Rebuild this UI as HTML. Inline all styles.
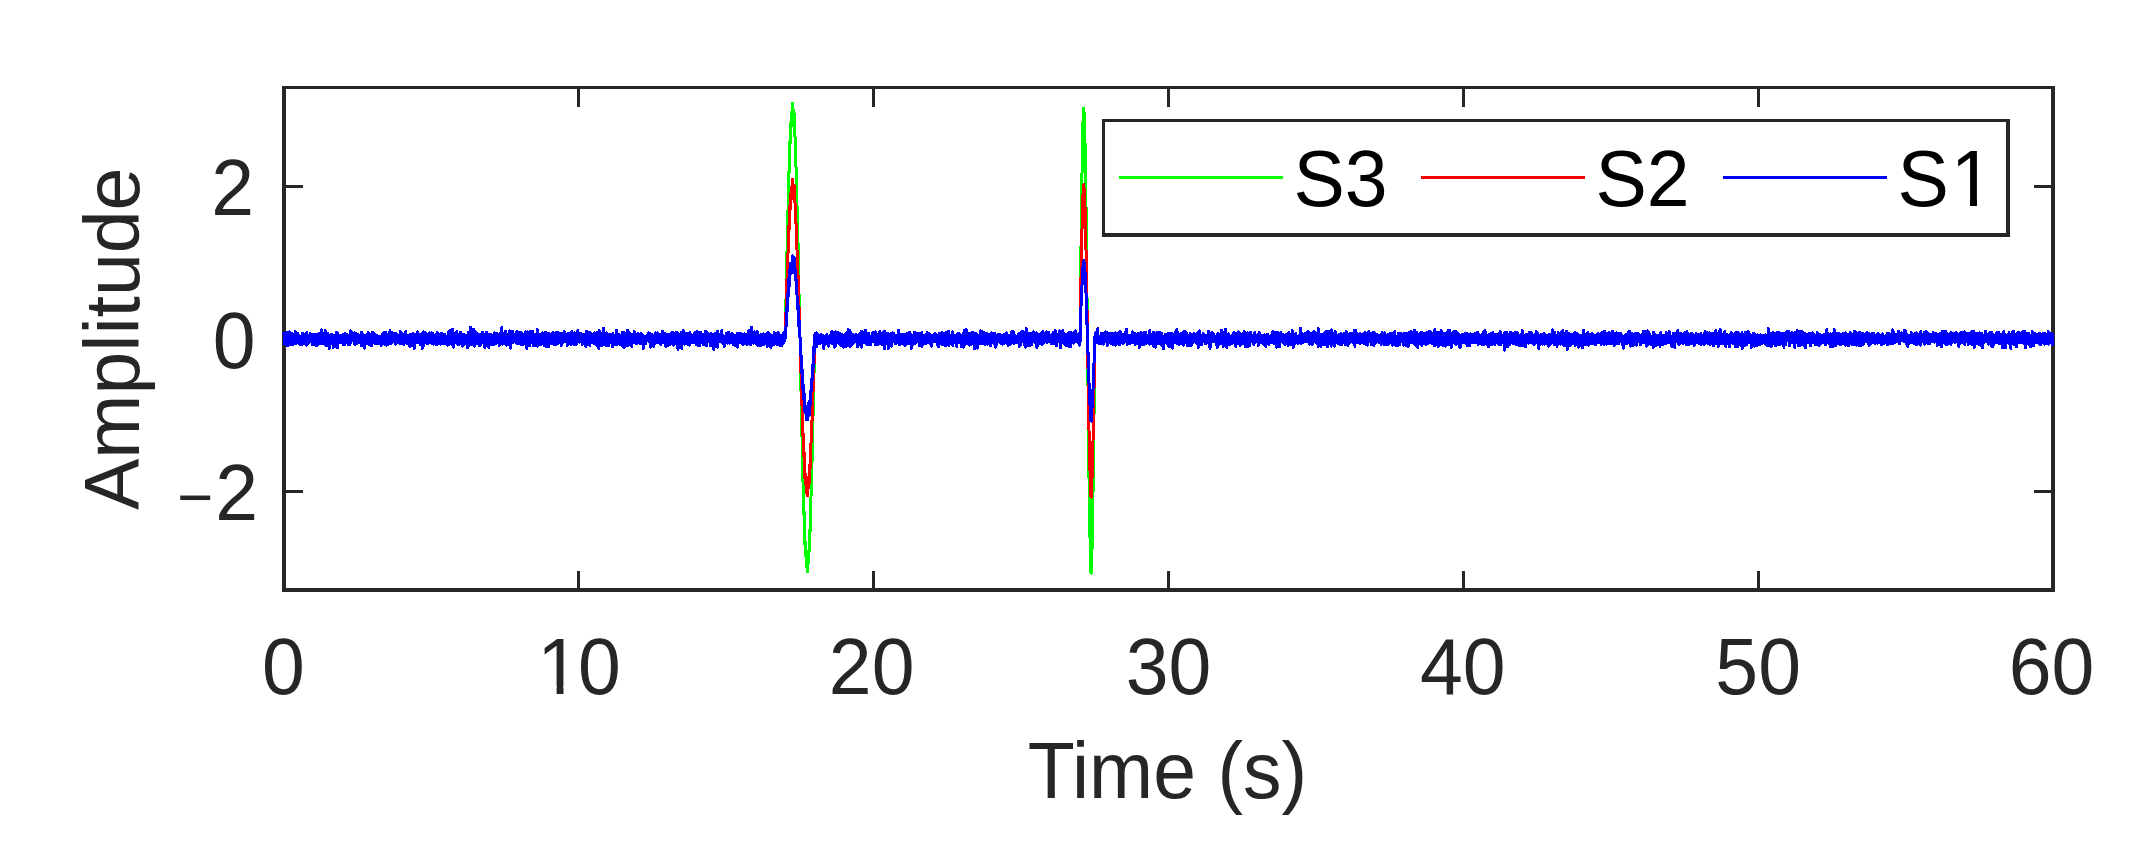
<!DOCTYPE html>
<html lang="en"><head><meta charset="utf-8"><title>Amplitude vs Time</title>
<style>
html,body{margin:0;padding:0;background:#fff;}
body{width:2130px;height:843px;overflow:hidden;}
svg{display:block;font-family:"Liberation Sans",sans-serif;}
</style></head><body>
<svg width="2130" height="843" viewBox="0 0 2130 843">
<rect x="0" y="0" width="2130" height="843" fill="#fff"/>
<g fill="#262626" shape-rendering="crispEdges">
<rect x="282" y="86" width="1773" height="3"/>
<rect x="282" y="588" width="1773" height="4"/>
<rect x="282" y="86" width="4" height="506"/>
<rect x="2051" y="86" width="4" height="506"/>
<rect x="577" y="571" width="3" height="18"/>
<rect x="577" y="88" width="3" height="19"/>
<rect x="872" y="571" width="3" height="18"/>
<rect x="872" y="88" width="3" height="19"/>
<rect x="1167" y="571" width="3" height="18"/>
<rect x="1167" y="88" width="3" height="19"/>
<rect x="1462" y="571" width="3" height="18"/>
<rect x="1462" y="88" width="3" height="19"/>
<rect x="1757" y="571" width="3" height="18"/>
<rect x="1757" y="88" width="3" height="19"/>
<rect x="285" y="185" width="18" height="3"/>
<rect x="2034" y="185" width="18" height="3"/>
<rect x="285" y="337" width="18" height="3"/>
<rect x="2034" y="337" width="18" height="3"/>
<rect x="285" y="490" width="18" height="3"/>
<rect x="2034" y="490" width="18" height="3"/>
</g>
<g fill="none" stroke-width="3" stroke-linejoin="round" stroke-linecap="square" shape-rendering="crispEdges">
<polyline stroke="#00ff00" points="782.3,340.1 782.5,336.8 782.6,343.3 783.0,338.8 783.1,344.0 783.9,332.4 784.0,341.1 784.3,334.5 784.9,341.2 785.0,339.9 785.1,335.9 785.2,337.7 785.9,306.6 786.0,299.5 787.0,250.8 787.1,250.6 787.9,211.7 788.0,211.0 788.9,171.8 789.0,173.9 789.1,169.4 789.2,171.9 789.9,141.1 790.1,144.0 790.8,123.1 791.0,124.7 791.1,122.8 791.8,112.0 791.9,113.9 792.1,114.0 792.5,103.5 792.6,116.3 792.9,111.1 793.0,111.8 793.4,110.2 793.8,125.9 793.9,123.1 794.1,112.9 794.8,134.5 794.9,131.0 795.0,136.5 795.9,166.3 796.1,167.7 796.9,201.3 797.0,205.1 798.0,241.3 798.1,251.1 798.9,285.5 799.0,296.8 799.1,293.9 800.0,337.6 800.1,341.4 800.9,382.7 801.0,390.5 802.0,437.0 802.1,435.7 802.9,469.0 803.0,482.3 804.0,514.5 804.1,511.0 804.9,544.6 805.0,541.8 805.1,541.1 806.0,556.5 806.1,566.4 806.2,555.4 806.9,562.9 807.0,564.8 807.5,571.8 808.0,561.2 808.1,563.6 808.4,551.3 808.9,559.8 809.0,551.0 809.5,551.3 810.0,528.8 810.1,531.8 810.9,502.1 811.0,497.1 812.0,461.5 812.1,460.6 812.9,422.3 813.0,416.5 814.0,369.0 814.1,373.2 814.7,335.2 814.9,343.0 815.1,340.6 815.4,333.1 815.9,342.6 816.0,340.6 816.1,334.3 816.2,332.9 816.6,346.5 816.9,335.9 817.1,334.7 817.2,342.9 817.5,334.5 817.6,340.4"/>
<polyline stroke="#00ff00" points="1077.1,337.2 1077.3,341.2 1077.8,334.2 1077.9,339.5 1078.0,342.8 1078.4,336.2 1079.0,340.1 1079.1,344.2 1079.2,345.1 1079.5,333.3 1079.9,337.2 1080.1,341.3 1081.0,247.1 1081.1,237.6 1081.9,176.9 1082.1,169.0 1083.0,121.9 1083.1,116.8 1083.7,108.4 1083.9,109.2 1084.1,114.2 1084.9,135.2 1085.0,140.8 1085.9,201.6 1086.1,211.7 1086.9,290.3 1087.0,295.6 1088.0,385.8 1088.1,404.4 1088.9,472.6 1089.0,477.9 1090.0,537.7 1090.1,539.6 1090.9,572.7 1091.0,564.1 1091.3,573.2 1092.0,550.0 1092.1,546.0 1092.9,500.5 1093.0,493.4 1094.0,415.6 1094.1,407.8 1094.9,336.7 1095.0,342.7 1095.9,332.5 1096.0,335.8 1096.1,339.5 1096.3,334.7 1096.4,341.3 1096.9,339.5 1097.0,333.7 1097.5,342.7 1097.7,340.6"/>
<polyline stroke="#ff0000" points="782.3,340.1 782.5,336.8 782.6,343.3 783.0,338.8 783.1,344.0 783.9,332.4 784.0,341.1 784.3,334.5 784.9,341.2 785.0,339.9 785.1,335.9 785.2,337.7 785.9,318.0 786.0,312.8 787.0,278.8 787.1,280.4 787.9,253.3 788.0,254.2 788.9,225.3 789.0,228.7 789.1,225.5 789.2,229.4 789.9,205.4 790.1,209.3 790.8,193.5 791.0,196.5 791.1,195.2 791.5,195.7 791.8,187.1 791.9,189.3 792.1,189.6 792.5,179.6 792.6,192.4 792.9,187.1 793.0,187.7 793.4,185.3 793.8,199.4 793.9,196.1 794.1,185.3 794.8,202.5 794.9,198.2 795.0,202.8 795.9,223.7 796.1,223.8 796.9,247.6 797.0,249.8 797.7,274.4 798.0,272.8 798.1,280.9 798.2,280.4 798.7,303.6 798.9,302.5 799.0,312.0 799.1,307.3 800.0,337.6 800.1,339.5 800.9,367.5 801.0,373.4 802.0,405.5 802.1,402.4 802.9,424.2 803.0,436.0 803.3,434.0 804.0,457.0 804.1,452.4 804.9,478.3 805.0,474.6 805.1,473.0 805.6,484.0 806.0,483.5 806.1,492.9 806.2,481.4 806.9,487.0 807.0,488.8 807.5,495.8 808.0,485.7 808.1,488.4 808.3,488.6 808.4,477.4 808.9,488.0 809.0,479.8 809.5,483.3 810.0,464.5 810.1,468.6 810.9,447.2 811.0,443.6 812.0,419.9 812.1,420.6 812.9,394.2 813.0,390.3 813.3,391.2 814.0,357.5 814.1,363.7 814.7,335.2 814.9,343.0 815.1,340.6 815.4,333.1 815.9,342.6 816.0,340.6 816.1,334.3 816.2,332.9 816.6,346.5 816.9,335.9 817.1,334.7 817.2,342.9 817.5,334.5 817.6,340.4"/>
<polyline stroke="#ff0000" points="1077.1,337.2 1077.3,341.2 1077.8,334.2 1077.9,339.5 1078.0,342.8 1078.4,336.2 1079.0,340.1 1079.1,344.2 1079.2,345.1 1079.5,333.3 1079.9,337.2 1080.1,341.3 1081.0,276.9 1081.1,270.9 1081.9,231.8 1082.1,226.5 1083.0,194.3 1083.1,190.3 1083.4,190.3 1083.7,184.5 1083.9,185.0 1084.1,189.6 1084.3,188.7 1084.9,202.3 1085.0,206.1 1085.9,246.3 1086.1,253.3 1086.9,307.4 1087.0,308.9 1088.0,368.7 1088.1,383.6 1088.9,427.8 1089.0,430.1 1090.0,470.5 1090.1,470.7 1090.9,496.9 1091.0,488.0 1091.3,497.2 1092.0,478.9 1092.1,476.3 1092.9,445.7 1093.0,441.3 1094.0,389.4 1094.1,385.2 1094.9,336.7 1095.0,342.7 1095.9,332.5 1096.0,335.8 1096.1,339.5 1096.3,334.7 1096.4,341.3 1096.9,339.5 1097.0,333.7 1097.5,342.7 1097.7,340.6"/>
<polyline stroke="#0000ff" points="284.0,333.5 284.8,344.2 284.9,335.6 285.1,336.9 285.8,343.3 285.9,337.0 286.0,338.4 286.2,343.5 286.7,332.4 286.9,343.3 287.1,340.0 287.2,345.9 287.7,335.4 287.9,337.1 288.0,345.2 288.5,333.2 289.0,337.0 289.1,341.1 289.3,344.4 289.5,331.7 289.9,332.8 290.0,338.0 290.6,343.2 291.0,335.0 291.1,339.9 291.2,344.7 291.4,333.4 291.9,342.0 292.0,339.7 292.1,342.4 292.7,334.1 293.0,337.7 293.1,336.5 293.3,344.3 293.6,336.0 293.9,339.4 294.0,340.6 294.4,334.0 295.0,339.0 295.1,340.9 295.3,331.7 295.8,341.4 295.9,337.6 296.0,337.5 296.1,343.3 296.7,333.4 297.0,339.6 297.1,337.8 297.2,335.5 297.4,342.6 297.9,340.8 298.0,333.3 298.3,341.4 299.0,337.6 299.1,335.7 299.9,344.5 300.0,338.5 300.3,344.8 300.6,337.2 301.0,342.6 301.1,340.4 301.7,338.7 301.8,344.3 301.9,339.4 302.0,336.6 302.3,333.4 302.4,343.6 303.0,337.5 303.1,332.9 303.2,343.4 303.9,341.3 304.0,341.3 304.8,335.7 305.0,342.9 305.1,336.7 305.6,334.9 305.8,344.5 305.9,343.0 306.1,336.5 306.9,345.2 307.0,332.3 307.1,344.7 307.7,335.6 307.9,342.9 308.1,339.9 308.4,336.2 308.8,342.3 308.9,339.7 309.0,336.9 309.5,340.6 309.9,338.2 310.1,333.3 310.4,342.0 310.9,338.9 311.0,336.5 311.2,340.4 311.7,335.1 312.0,339.8 312.1,340.4 312.4,344.7 312.5,334.8 312.9,342.4 313.0,334.7 313.4,343.1 314.0,338.6 314.1,335.7 314.7,334.9 314.9,344.3 315.0,337.6 315.1,334.2 315.4,340.4 316.0,334.4 316.1,337.2 316.4,335.8 316.8,345.9 316.9,335.9 317.0,340.6 317.1,345.4 317.5,336.4 318.0,342.9 318.1,336.0 318.6,341.7 318.9,333.0 319.0,338.7 319.1,333.5 319.6,343.7 320.0,339.2 320.1,339.0 320.2,334.4 320.4,343.4 320.9,337.8 321.0,341.4 321.3,329.8 322.0,341.6 322.1,342.4 322.4,343.9 322.6,335.1 322.9,339.6 323.0,338.0 323.6,337.5 323.7,343.2 324.0,339.2 324.1,333.2 324.3,343.2 324.9,336.3 325.0,333.6 325.3,330.5 326.0,345.9 326.1,338.5 326.3,341.2 326.6,335.6 326.9,340.8 327.0,341.2 327.5,345.7 328.0,333.2 328.1,338.8 328.3,343.3 328.5,335.1 328.9,338.9 329.1,339.7 329.3,348.4 329.8,337.5 330.0,338.3 330.1,336.3 330.5,343.8 330.9,333.9 331.1,335.4 331.8,343.8 331.9,334.6 332.0,340.9 332.1,336.6 332.5,334.7 332.7,343.5 332.9,336.1 333.1,339.9 333.3,337.2 333.4,347.4 333.9,341.0 334.0,342.2 334.2,343.3 334.8,335.9 334.9,339.1 335.1,337.1 335.3,341.3 335.4,337.0 335.9,340.1 336.0,336.3 336.1,331.9 337.0,347.5 337.1,340.6 337.8,332.8 337.9,347.6 338.0,339.7 338.5,343.0 338.8,335.4 339.0,338.4 339.1,341.4 339.4,337.0 339.9,342.4 340.0,336.2 340.1,335.1 340.3,342.4 341.0,335.6 341.1,340.1 341.2,340.8 341.9,336.4 342.0,335.6 342.3,343.2 343.0,334.0 343.1,344.6 343.9,334.7 344.0,338.2 344.5,344.5 344.6,333.8 345.0,342.8 345.1,342.1 345.3,342.8 345.4,333.5 345.9,334.2 346.0,334.6 346.9,342.7 347.0,338.2 347.1,342.4 347.2,334.5 347.9,335.8 348.0,343.3 348.2,344.6 348.9,336.3 349.0,341.5 349.1,338.5 349.5,336.8 349.7,344.8 349.9,337.8 350.0,335.4 350.4,343.2 350.5,330.9 351.0,335.8 351.1,336.9 351.6,334.7 351.7,341.0 351.9,336.7 352.0,334.8 352.3,341.0 352.6,332.8 353.0,337.8 353.1,340.5 353.3,333.6 353.9,336.4 354.1,341.0 354.5,332.8 355.0,344.6 355.1,344.3 355.8,333.6 355.9,338.0 356.1,335.2 356.4,341.7 356.9,336.8 357.0,338.2 357.4,336.2 357.5,343.1 357.9,337.5 358.1,342.9 358.2,334.3 358.9,342.0 359.0,340.5 359.1,343.1 359.4,335.5 359.9,340.2 360.1,337.0 360.8,334.7 360.9,340.6 361.0,338.2 361.6,332.6 361.7,345.8 362.0,342.0 362.1,333.7 362.9,343.4 363.0,342.2 363.3,337.8 363.6,344.3 364.0,338.6 364.1,337.3 364.4,335.6 364.8,348.1 364.9,338.9 365.0,336.8 365.1,335.2 365.7,342.4 366.0,341.6 366.1,337.9 366.8,335.2 366.9,344.0 367.0,335.6 367.4,334.4 367.9,341.5 368.0,334.9 368.1,332.0 368.9,344.6 369.0,340.3 369.1,344.7 369.7,334.6 370.0,342.6 370.1,342.9 370.2,345.0 370.6,335.5 370.9,340.4 371.0,336.3 371.5,335.9 371.7,345.8 372.0,337.4 372.1,332.2 372.3,342.9 372.4,332.1 372.9,341.9 373.0,334.1 373.5,333.9 373.6,340.6 374.0,338.0 374.1,341.5 374.3,333.7 374.7,342.8 374.9,339.6 375.0,339.1 375.3,343.4 375.9,335.9 376.0,338.6 376.1,341.4 376.2,335.1 376.6,343.6 376.9,340.4 377.0,337.3 377.3,335.6 377.8,340.3 378.0,338.7 378.1,340.0 378.2,336.1 378.6,343.5 378.9,338.6 379.1,340.1 379.2,341.4 379.9,337.7 380.0,338.0 380.1,341.1 380.5,336.2 380.8,342.4 380.9,336.4 381.1,345.4 381.4,336.1 381.9,341.0 382.0,338.4 382.7,342.2 382.9,333.7 383.1,337.0 383.8,332.8 383.9,344.1 384.0,336.6 384.1,332.7 385.0,344.8 385.1,337.7 385.4,332.2 385.7,339.9 385.9,338.1 386.0,335.6 386.4,345.1 387.0,340.5 387.1,341.6 387.4,334.4 387.9,335.0 388.0,337.3 388.4,333.8 388.7,344.2 389.0,339.9 389.1,340.8 389.7,334.8 389.9,342.7 390.0,330.7 390.4,341.0 391.0,339.6 391.1,343.4 391.3,334.0 391.9,338.9 392.0,342.6 392.6,332.9 393.0,341.0 393.1,340.8 393.2,341.8 393.4,337.4 393.9,339.2 394.0,341.1 394.1,333.4 394.4,341.6 395.0,335.6 395.1,335.4 395.3,335.3 395.8,344.2 395.9,339.2 396.0,333.1 396.3,340.7 397.0,336.4 397.1,340.5 397.6,335.2 397.9,336.6 398.0,342.3 398.3,336.6 398.7,342.5 399.0,337.8 399.1,341.7 399.3,335.4 399.9,340.0 400.0,336.9 400.2,331.4 400.6,343.8 401.0,334.8 401.1,333.5 401.8,340.9 401.9,336.0 402.1,341.6 402.5,333.9 403.0,342.0 403.1,341.0 403.8,334.6 403.9,344.9 404.1,334.7 404.4,343.3 405.0,339.9 405.1,338.2 405.8,339.5 405.9,331.4 406.1,336.8 406.4,336.3 406.8,342.9 406.9,340.4 407.0,338.6 407.1,343.4 407.9,336.8 408.1,341.8 408.3,335.9 408.4,342.5 408.9,339.8 409.0,339.5 409.8,346.3 410.0,334.8 410.1,339.3 410.2,334.0 410.9,346.1 411.0,336.6 411.5,344.5 412.0,338.9 412.1,339.8 412.2,343.4 412.4,335.7 412.9,336.0 413.0,334.5 413.1,333.5 413.8,346.1 414.0,339.4 414.1,348.9 414.7,334.7 414.9,335.5 415.0,337.0 415.5,342.2 416.0,336.5 416.1,335.9 416.2,342.8 416.9,340.1 417.0,338.0 417.4,331.8 417.7,342.5 418.0,335.1 418.1,335.0 418.8,341.8 418.9,334.4 419.0,335.5 419.3,341.2 420.0,338.1 420.1,334.4 420.2,345.0 420.9,338.5 421.0,339.5 421.9,343.3 422.0,334.8 422.1,348.4 422.9,332.4 423.0,337.4 423.4,331.9 423.6,345.7 424.0,343.8 424.1,336.4 424.2,342.5 424.9,338.2 425.0,340.5 425.3,332.7 425.5,342.1 426.0,338.2 426.1,338.5 426.6,335.4 426.7,340.7 426.9,338.6 427.1,334.8 427.5,343.4 428.0,335.8 428.1,339.7 428.2,343.0 428.8,336.5 428.9,336.7 429.1,336.1 429.6,332.9 429.9,342.4 430.0,334.1 430.7,340.9 430.8,334.0 430.9,339.9 431.1,340.3 431.3,332.9 431.9,336.0 432.0,343.8 432.7,333.3 432.9,337.0 433.1,341.3 433.3,336.2 433.8,344.2 433.9,339.9 434.0,336.9 434.1,344.0 435.0,335.0 435.1,335.1 435.4,344.2 435.9,335.8 436.0,344.3 436.7,333.6 437.0,341.6 437.1,344.5 437.2,332.3 437.9,339.8 438.0,338.2 438.4,339.9 438.8,335.3 439.0,339.5 439.1,339.1 439.3,334.1 439.4,343.1 439.9,336.4 440.0,343.9 440.3,344.2 441.0,334.1 441.1,334.8 441.4,333.6 441.9,342.4 442.0,335.0 442.6,334.0 443.0,341.9 443.1,335.4 443.3,343.4 443.9,341.0 444.0,341.2 444.7,343.8 445.0,334.7 445.1,341.9 445.2,336.4 445.9,339.3 446.0,338.4 446.9,344.4 447.0,339.8 447.1,339.6 447.3,345.2 447.5,336.3 447.9,342.7 448.0,338.4 448.3,331.9 448.6,343.6 449.0,336.6 449.1,337.0 449.3,344.5 449.8,332.9 449.9,336.2 450.1,335.7 450.2,342.7 450.3,330.7 451.0,339.5 451.1,338.7 451.8,332.5 451.9,340.6 452.1,335.0 452.2,344.9 452.6,329.4 453.0,342.1 453.1,339.2 453.2,333.3 453.8,347.1 453.9,343.5 454.1,337.4 454.3,342.8 454.5,333.7 454.9,336.8 455.0,337.1 455.6,340.4 455.7,334.6 455.9,335.3 456.1,332.4 456.7,331.6 456.8,340.8 456.9,340.7 457.0,341.5 457.4,335.5 457.6,344.2 458.0,338.6 458.1,339.2 458.3,334.3 458.9,344.4 459.0,336.3 459.1,341.1 459.6,333.7 460.0,337.8 460.1,336.1 460.3,341.8 460.7,332.3 460.9,338.1 461.0,340.5 461.1,343.4 461.8,334.6 462.0,340.7 462.1,336.9 462.6,346.1 462.9,345.3 463.0,339.3 463.5,344.8 463.7,335.0 464.0,339.0 464.1,334.3 464.9,343.5 465.0,335.4 465.5,342.8 466.0,336.7 466.1,335.4 466.3,340.4 466.7,335.2 466.9,339.1 467.0,341.1 467.3,335.8 467.4,347.8 468.0,339.0 468.1,337.6 468.2,343.0 468.3,332.1 468.9,336.2 469.0,335.1 469.2,345.2 469.3,333.5 470.0,336.4 470.1,338.9 470.3,343.8 470.8,327.1 470.9,337.9 471.0,339.2 471.6,335.6 472.0,345.0 472.1,343.6 472.2,336.9 472.3,344.4 472.9,337.9 473.0,337.4 473.4,329.6 473.9,341.0 474.0,338.0 474.1,339.5 474.5,346.1 474.8,331.1 474.9,335.5 475.1,341.8 475.6,343.9 475.8,337.4 476.0,339.3 476.1,337.7 476.2,332.4 476.7,343.9 476.9,341.2 477.1,341.3 477.3,333.5 477.8,343.1 477.9,335.9 478.0,341.3 478.1,343.3 478.7,334.1 478.9,341.0 479.1,341.4 479.4,345.5 479.7,336.8 479.9,338.7 480.0,339.4 480.1,345.5 480.5,336.1 480.9,337.7 481.1,338.0 481.4,342.9 481.7,334.2 481.9,339.4 482.0,336.8 482.6,332.5 483.0,341.2 483.1,340.9 483.8,334.5 483.9,335.7 484.0,342.2 484.4,335.6 484.8,347.3 485.0,344.6 485.1,338.4 485.3,335.6 485.5,342.7 485.9,339.5 486.0,340.3 486.5,345.7 486.6,332.1 487.0,342.4 487.1,340.8 487.9,334.9 488.0,338.8 488.6,334.7 488.7,347.3 489.0,339.2 489.1,338.5 489.2,340.7 489.4,336.6 489.9,340.0 490.0,338.7 490.3,345.0 490.4,334.6 491.0,341.8 491.1,339.0 491.3,342.9 491.6,334.7 491.9,342.1 492.0,339.1 492.3,340.9 492.4,336.1 493.0,338.2 493.1,337.7 493.7,344.7 493.8,335.6 493.9,337.9 494.0,338.8 494.5,333.0 494.7,343.6 495.0,340.6 495.1,340.5 495.6,336.5 495.9,343.1 496.0,341.4 496.4,333.3 496.5,343.1 497.0,338.5 497.1,339.7 497.7,333.8 497.9,342.2 498.0,339.8 498.6,343.1 499.0,334.2 499.1,341.1 499.3,345.4 499.9,337.0 500.1,344.0 500.4,333.2 501.0,338.9 501.1,341.1 501.8,341.3 501.9,327.8 502.1,341.2 502.4,335.1 502.6,344.1 502.9,342.1 503.0,341.4 503.8,334.6 503.9,339.5 504.1,341.3 504.5,332.9 504.9,343.9 505.0,340.8 505.5,331.4 505.8,344.8 506.0,339.5 506.1,337.6 506.2,334.8 506.5,345.1 506.9,339.9 507.0,338.1 507.6,343.4 507.7,334.6 508.0,337.4 508.1,341.3 508.4,337.3 508.7,344.1 508.9,340.1 509.0,343.7 509.3,344.2 509.7,330.9 510.0,337.8 510.1,337.0 510.5,335.8 510.7,348.1 510.9,340.0 511.0,340.7 511.1,335.1 511.8,341.3 512.0,339.5 512.1,342.4 512.7,342.7 512.8,331.0 512.9,341.0 513.0,341.7 513.9,334.8 514.0,339.4 514.1,339.7 514.4,337.4 514.7,341.4 514.9,340.7 515.0,340.8 515.6,334.1 516.0,341.5 516.1,338.1 516.4,343.1 516.8,331.4 516.9,338.4 517.0,339.1 517.7,343.8 518.0,337.8 518.1,336.6 518.5,335.6 518.6,343.7 518.9,342.0 519.0,338.4 519.4,332.6 519.6,339.6 520.0,337.2 520.1,341.2 520.7,333.5 520.9,343.1 521.0,344.2 521.9,332.9 522.0,339.6 522.1,337.9 522.7,344.7 522.8,333.9 522.9,343.9 523.1,342.7 523.8,336.5 524.0,343.4 524.1,333.9 524.5,343.4 524.9,335.7 525.1,343.9 525.8,331.9 526.0,335.4 526.1,343.0 526.5,338.4 526.8,348.5 526.9,340.6 527.1,341.7 527.4,331.9 527.9,336.6 528.0,337.0 528.5,333.2 528.8,342.8 528.9,338.0 529.1,337.6 529.5,345.4 529.8,331.5 529.9,338.1 530.0,342.6 530.6,342.8 530.8,336.5 531.0,337.8 531.1,334.9 531.2,342.1 531.7,334.8 531.9,337.9 532.0,336.7 532.6,340.1 532.7,331.0 533.0,337.5 533.1,341.0 533.2,345.5 533.9,335.5 534.0,335.6 534.6,334.2 534.7,342.5 535.0,337.9 535.1,345.3 535.2,336.3 535.9,338.3 536.0,335.5 536.3,343.9 536.4,335.2 537.0,337.0 537.1,339.8 537.2,329.6 537.9,346.2 538.0,334.0 538.6,342.3 539.0,337.0 539.1,338.6 539.4,345.0 539.8,335.9 539.9,338.3 540.0,334.2 540.3,345.0 540.9,334.0 541.0,339.1 541.1,335.3 541.3,343.1 541.9,343.0 542.0,341.8 542.5,332.8 543.0,333.7 543.1,336.6 543.5,343.9 543.9,342.8 544.0,338.8 544.2,345.6 544.9,333.7 545.0,335.8 545.1,339.5 545.2,332.0 545.8,345.2 545.9,339.7 546.0,346.4 546.5,333.6 547.0,336.9 547.1,338.7 547.3,333.6 547.6,342.1 547.9,336.5 548.1,337.7 548.4,346.7 548.5,333.8 549.0,337.9 549.1,336.7 549.2,343.2 549.6,334.0 549.9,338.4 550.1,336.6 550.8,343.0 550.9,341.0 551.0,337.5 551.1,343.7 551.4,336.3 551.9,339.5 552.1,333.5 552.3,343.8 552.9,338.8 553.0,331.9 553.5,342.5 553.9,341.3 554.1,340.0 554.3,345.0 554.5,333.7 554.9,334.4 555.0,335.1 555.6,332.9 555.8,342.3 556.0,335.8 556.1,338.3 556.2,344.4 556.8,335.4 556.9,339.0 557.0,338.1 557.7,332.0 558.0,341.3 558.1,343.8 558.9,334.1 559.0,342.4 560.0,333.8 560.1,339.6 560.8,343.2 560.9,333.8 561.0,338.0 561.3,345.4 561.7,335.0 562.0,336.5 562.1,343.3 562.9,333.8 563.0,341.8 563.1,334.3 563.3,342.4 564.0,338.4 564.1,331.6 564.8,341.9 564.9,341.0 565.0,337.9 565.6,340.0 565.9,334.0 566.0,335.0 566.1,334.2 566.8,342.6 566.9,340.0 567.0,337.7 567.2,345.4 567.9,333.5 568.0,335.3 568.1,336.3 568.2,342.0 568.5,334.9 568.9,336.6 569.0,339.2 569.4,343.7 569.6,333.6 570.0,340.2 570.1,338.6 570.5,333.3 570.6,342.6 570.9,340.7 571.0,335.9 571.2,344.7 571.8,331.2 572.0,336.2 572.1,337.3 572.5,340.7 572.8,335.6 572.9,336.0 573.1,339.9 573.5,334.9 573.9,344.5 574.0,336.6 574.1,342.9 574.5,332.9 574.9,339.7 575.1,337.4 575.4,333.6 575.5,342.9 575.9,336.1 576.0,344.6 576.9,336.2 577.1,339.5 577.2,341.0 577.9,330.0 578.0,341.8 578.5,333.6 579.0,341.0 579.1,337.4 579.5,342.1 579.8,335.9 579.9,338.6 580.0,336.3 580.1,341.0 580.8,333.5 581.0,337.2 581.1,340.3 581.2,333.5 581.9,342.2 582.0,342.7 582.3,344.4 583.0,335.8 583.1,337.3 583.2,334.5 583.4,340.4 583.9,337.6 584.0,338.2 584.6,338.7 585.0,334.4 585.1,336.3 585.6,343.7 585.8,333.5 585.9,338.4 586.0,347.1 586.5,331.2 587.0,336.7 587.1,335.6 587.8,341.5 587.9,337.4 588.0,338.3 588.4,342.8 588.5,335.6 589.0,340.9 589.1,339.7 589.4,332.2 589.9,345.9 590.0,332.8 590.5,341.0 591.0,337.4 591.1,342.2 591.2,333.3 591.7,342.4 591.9,338.0 592.0,339.2 592.7,335.2 592.9,342.7 593.0,340.4 593.1,340.7 593.8,343.6 593.9,336.6 594.0,336.5 594.3,341.8 594.5,332.7 595.0,334.8 595.1,338.2 595.2,333.5 595.8,340.7 595.9,335.9 596.1,339.9 596.5,345.3 597.0,332.4 597.1,340.7 597.3,344.0 597.9,336.8 598.1,336.5 598.2,335.6 599.0,348.8 599.1,340.8 599.2,330.7 599.9,339.4 600.1,342.7 600.5,334.1 600.9,341.8 601.0,343.1 601.7,344.8 601.8,335.3 601.9,341.4 602.1,332.9 602.2,345.4 602.9,336.9 603.0,342.9 603.7,328.1 603.8,343.1 604.0,339.4 604.1,336.7 604.3,334.4 604.4,342.0 604.9,338.3 605.0,338.0 605.3,344.6 605.7,336.5 606.0,336.8 606.1,335.7 606.2,345.7 606.4,332.8 606.9,336.1 607.0,340.0 607.7,335.4 608.0,342.6 608.1,341.7 608.3,345.7 608.7,334.8 608.9,341.3 609.0,338.2 609.3,334.7 609.6,342.9 610.0,335.1 610.1,338.4 610.2,334.6 610.6,342.3 610.9,341.3 611.0,336.6 611.3,335.0 611.7,341.6 612.0,341.1 612.1,335.1 612.2,347.1 612.9,334.7 613.0,333.6 613.7,342.7 614.0,340.8 614.1,336.3 614.3,344.3 614.9,341.1 615.0,336.3 615.4,335.7 615.6,344.6 616.0,340.0 616.1,334.7 616.6,330.6 616.7,344.4 616.9,337.7 617.0,335.3 617.4,334.4 618.0,343.0 618.1,340.4 618.9,334.8 619.0,340.7 619.5,336.1 619.8,344.5 620.0,339.5 620.1,342.3 620.8,335.4 620.9,339.6 621.1,339.6 621.2,334.8 621.8,343.3 622.0,338.8 622.1,342.8 622.6,332.1 622.9,346.7 623.1,339.0 623.6,332.1 623.9,341.1 624.0,337.7 624.1,347.8 624.4,335.0 624.9,338.5 625.1,338.9 625.3,333.8 625.5,344.3 625.9,342.5 626.0,343.9 627.0,337.7 627.1,340.8 627.5,330.5 627.7,345.6 627.9,341.7 628.0,338.1 628.7,333.9 629.0,344.0 629.1,332.5 629.9,341.3 630.0,342.8 630.4,345.2 630.8,334.6 631.0,337.9 631.1,337.2 631.8,346.3 631.9,338.0 632.0,334.2 632.8,342.4 633.0,335.7 633.1,338.4 633.7,333.9 633.9,342.6 634.0,334.6 634.1,331.4 634.5,342.6 635.0,336.3 635.1,341.4 635.3,342.8 635.4,334.5 635.9,334.7 636.0,337.9 636.1,336.6 636.6,343.6 637.0,342.4 637.1,338.5 637.4,341.8 637.8,333.4 637.9,338.3 638.0,338.6 638.2,342.7 639.0,334.7 639.1,337.6 639.2,337.2 639.6,341.2 639.9,338.8 640.0,335.7 640.7,343.9 640.9,333.6 641.0,340.6 641.1,340.1 641.2,333.1 641.3,342.1 641.9,338.0 642.0,336.8 642.6,335.1 642.8,344.2 643.0,338.2 643.1,344.7 643.2,348.3 643.6,336.3 643.9,339.9 644.1,338.5 644.4,336.3 645.0,341.8 645.1,336.2 645.9,343.8 646.1,339.3 646.4,340.9 646.5,336.0 647.0,338.8 647.1,341.0 647.8,335.0 647.9,337.4 648.1,337.2 648.8,332.8 648.9,341.5 649.0,336.2 649.5,342.2 649.6,333.3 649.9,337.8 650.1,342.2 650.2,335.8 650.4,347.2 650.9,342.1 651.0,341.0 651.7,334.4 652.0,346.1 652.1,344.0 652.9,335.5 653.0,339.5 653.5,337.3 654.0,346.5 654.1,338.0 654.5,343.6 654.7,334.8 654.9,339.5 655.0,338.1 655.1,340.7 655.6,332.9 656.0,335.9 656.1,336.0 656.6,333.8 656.8,341.4 656.9,336.1 657.0,336.8 657.5,332.9 657.7,342.7 658.0,337.3 658.1,339.4 658.2,340.9 658.4,336.6 658.9,340.7 659.0,339.9 659.1,343.0 659.3,337.8 660.0,340.7 660.1,341.3 660.2,334.7 660.3,344.1 660.9,342.0 661.0,344.5 661.2,335.3 662.0,337.6 662.1,341.9 662.8,331.0 662.9,340.5 663.0,337.1 663.3,342.7 664.0,333.4 664.1,333.1 664.6,341.3 664.9,333.3 665.0,339.8 665.3,335.1 665.9,346.9 666.0,343.3 666.1,337.3 666.3,335.7 666.8,345.0 666.9,341.7 667.0,342.7 667.3,334.7 667.6,345.5 668.0,340.0 668.1,337.6 668.2,335.1 668.9,344.8 669.1,338.4 669.2,341.5 669.6,334.1 670.0,339.3 670.1,339.0 670.7,344.2 670.9,335.3 671.1,336.5 671.3,333.7 671.8,341.8 671.9,339.1 672.0,340.1 672.6,332.4 672.9,341.1 673.1,332.4 673.4,345.2 673.9,339.4 674.0,334.9 674.1,343.2 674.5,334.6 674.9,335.6 675.1,336.0 675.4,343.5 675.9,335.8 676.0,332.2 676.4,339.9 677.0,336.9 677.1,340.1 677.4,344.4 677.7,332.9 677.9,340.0 678.0,349.4 678.5,334.6 679.0,338.1 679.1,343.3 679.9,337.9 680.0,335.9 680.6,345.0 681.0,340.6 681.1,336.8 681.8,332.0 681.9,348.9 682.0,343.5 682.6,343.9 683.0,334.2 683.1,341.5 683.2,330.3 683.9,344.1 684.0,334.4 684.5,344.2 685.0,339.1 685.1,337.5 685.3,339.7 685.4,333.8 685.9,335.3 686.0,342.0 686.3,335.8 686.7,343.9 687.0,337.4 687.1,340.0 687.3,333.5 687.9,344.4 688.0,345.0 688.6,335.8 689.0,341.6 689.1,338.1 689.6,345.1 689.7,332.6 689.9,335.8 690.0,338.8 690.2,343.3 690.5,334.3 691.0,335.8 691.1,341.1 691.3,335.3 691.5,342.8 691.9,339.2 692.0,341.1 692.9,335.2 693.0,343.0 693.1,337.2 693.6,335.2 693.9,342.8 694.1,339.4 694.3,341.8 694.9,332.6 695.0,335.7 695.1,336.1 695.5,340.7 695.9,333.9 696.1,332.4 696.5,344.9 696.9,334.3 697.0,331.1 697.9,341.9 698.1,345.8 698.4,335.3 698.9,336.4 699.0,340.9 699.8,345.8 700.0,334.9 700.1,342.4 700.4,332.3 700.9,337.0 701.0,342.9 701.6,335.3 702.0,336.3 702.1,342.0 702.3,336.9 702.9,339.2 703.0,336.3 703.1,344.5 703.3,334.7 704.0,336.4 704.1,336.6 704.2,335.0 704.4,344.9 704.9,343.3 705.0,339.2 705.5,331.6 706.0,340.9 706.1,336.9 706.4,345.6 706.8,335.2 706.9,338.3 707.0,339.9 707.1,342.0 707.6,332.9 708.0,334.2 708.1,337.5 708.4,335.8 708.9,340.2 709.0,340.1 709.4,334.7 709.7,341.8 710.0,335.6 710.1,339.8 710.3,345.9 710.6,337.3 710.9,337.3 711.0,339.1 711.2,333.2 711.7,344.4 712.0,336.8 712.1,339.5 712.3,337.2 712.9,340.1 713.0,339.8 713.7,336.3 714.0,349.8 714.1,343.3 714.9,333.4 715.0,338.0 715.5,345.0 715.8,335.6 716.0,342.6 716.1,338.7 716.2,336.0 716.5,342.0 716.9,341.7 717.1,331.5 717.5,347.1 717.9,331.3 718.0,338.1 718.1,337.5 718.5,340.5 718.8,333.9 718.9,335.5 719.1,341.5 719.9,334.1 720.0,334.5 720.1,338.5 720.2,341.9 720.9,337.7 721.1,337.3 721.2,341.5 721.8,330.3 721.9,337.6 722.0,340.5 722.5,335.5 722.7,343.1 722.9,336.0 723.1,342.8 723.3,335.3 723.9,340.3 724.0,339.5 724.2,346.8 724.6,336.5 725.0,341.8 725.1,342.8 725.2,338.0 725.9,339.3 726.0,338.9 726.5,333.1 726.8,342.3 727.0,336.7 727.1,340.4 727.3,343.1 727.5,333.9 727.9,336.6 728.0,340.1 728.5,332.2 728.8,341.9 729.0,334.6 729.1,341.4 729.6,343.0 729.9,339.0 730.0,341.7 730.8,335.5 731.0,336.8 731.1,337.2 731.4,334.6 731.9,342.0 732.0,333.3 732.3,343.2 733.0,335.6 733.1,337.1 733.4,335.0 733.6,344.6 733.9,341.1 734.0,335.6 735.0,345.2 735.1,343.4 735.9,335.1 736.0,341.2 736.3,342.8 736.4,335.2 737.0,342.7 737.1,337.8 737.3,347.2 737.5,333.5 737.9,339.2 738.0,336.3 738.3,333.3 738.6,340.6 739.0,337.2 739.1,333.7 739.6,342.9 739.9,342.0 740.0,339.8 740.4,340.5 741.0,333.1 741.1,342.1 741.2,335.6 741.9,338.7 742.1,336.7 742.5,334.8 742.9,344.3 743.0,336.9 743.1,336.7 743.2,334.3 743.8,344.0 743.9,340.2 744.1,340.1 744.3,333.9 744.4,340.7 744.9,335.1 745.0,337.4 745.2,340.9 745.8,337.0 745.9,340.8 746.1,340.2 746.8,344.3 746.9,335.0 747.0,339.6 747.4,334.0 747.6,344.3 747.9,337.5 748.1,339.2 748.7,330.5 748.8,340.4 748.9,335.5 749.0,337.6 749.2,342.6 749.8,333.2 750.0,335.0 750.1,336.5 750.4,334.2 750.5,345.0 750.9,335.8 751.0,338.0 751.6,327.6 752.0,340.1 752.1,333.8 752.9,342.7 753.0,333.0 753.5,343.1 754.0,339.1 754.1,338.2 754.4,339.6 754.8,331.9 754.9,335.2 755.0,339.4 755.6,334.9 756.0,343.5 756.1,335.4 756.3,341.4 756.8,333.3 756.9,339.8 757.0,331.2 757.9,345.8 758.0,336.9 758.1,343.0 758.3,334.5 758.9,337.9 759.0,335.4 759.5,344.0 760.0,335.5 760.1,336.2 760.7,345.8 760.9,339.1 761.0,336.4 761.3,343.1 761.4,334.5 762.0,339.0 762.1,340.6 762.3,336.3 762.7,344.8 762.9,340.0 763.0,340.3 763.2,344.9 763.4,333.9 764.0,338.1 764.1,341.3 764.7,344.0 764.9,335.2 765.1,342.6 765.9,334.3 766.0,339.9 766.1,342.7 766.2,336.3 766.3,343.7 766.9,339.2 767.1,346.6 768.0,332.0 768.1,338.0 768.6,344.4 768.7,333.6 768.9,340.5 769.1,336.8 769.3,342.3 769.9,334.0 770.0,337.9 770.1,334.0 770.8,347.6 770.9,341.5 771.1,346.4 771.3,336.7 771.9,343.5 772.0,338.6 772.2,342.2 772.5,335.2 773.0,340.0 773.1,343.0 773.2,344.4 773.8,337.8 773.9,340.4 774.0,343.9 774.1,332.6 774.2,344.4 775.0,339.2 775.1,341.3 775.9,333.7 776.0,334.3 776.8,344.6 777.0,337.1 777.1,341.8 777.7,334.8 777.9,344.9 778.0,339.4 778.3,332.5 778.7,345.0 779.0,340.0 779.1,338.4 779.8,342.1 779.9,335.3 780.0,345.4 780.4,345.4 780.6,335.7 781.0,339.2 781.1,335.0 781.8,345.9 781.9,340.9 782.0,337.2 782.5,336.8 782.6,343.3 783.0,338.8 783.1,344.0 783.9,332.4 784.0,341.1 784.3,334.5 784.9,341.2 785.0,339.9 785.1,335.9 785.2,337.7 785.9,329.5 786.0,326.1 786.2,326.8 787.0,306.9 787.1,310.2 787.3,311.4 787.8,293.3 787.9,294.9 788.0,297.4 788.9,278.8 789.0,283.6 789.1,281.7 789.2,286.8 789.9,269.6 790.1,274.6 790.3,263.1 791.0,268.3 791.1,267.6 791.5,269.7 791.8,262.2 791.9,264.7 792.1,265.3 792.5,255.8 792.6,268.6 792.9,263.0 793.0,263.5 793.6,260.3 793.8,272.9 793.9,269.1 794.1,257.7 794.5,270.7 794.9,265.4 795.0,269.0 795.9,281.1 796.1,280.0 796.2,279.7 796.9,293.9 797.0,294.6 797.7,309.4 798.0,304.3 798.1,310.7 798.2,308.4 798.7,324.4 798.9,319.6 799.0,327.2 799.1,320.6 800.0,337.6 800.1,337.6 800.9,352.3 801.0,356.3 801.1,355.5 802.0,373.9 802.1,369.1 802.8,381.0 802.9,379.5 803.0,389.8 803.3,384.7 804.0,399.6 804.1,393.7 804.9,412.1 805.0,407.5 805.1,405.0 805.6,412.8 806.0,410.5 806.1,419.4 806.2,407.4 806.9,411.2 807.0,412.8 807.5,419.7 807.7,410.1 808.0,410.3 808.1,413.3 808.4,403.4 808.9,416.2 809.0,408.7 809.5,415.2 810.0,400.2 810.1,405.3 810.9,392.4 811.0,390.1 811.4,391.3 811.9,378.1 812.0,378.3 812.1,380.6 812.8,366.1 812.9,366.2 813.0,364.0 813.3,368.5 814.0,346.1 814.1,354.1 814.7,335.2 814.9,343.0 815.1,340.6 815.4,333.1 815.9,342.6 816.0,340.6 816.1,334.3 816.2,332.9 816.6,346.5 816.9,335.9 817.1,334.7 817.2,342.9 817.5,334.5 817.9,337.7 818.0,334.8 818.1,342.2 818.9,335.5 819.1,337.8 819.3,344.0 819.4,337.1 819.9,338.4 820.0,335.8 820.2,342.5 821.0,339.0 821.1,342.3 821.3,343.0 821.4,334.6 821.9,336.0 822.0,338.1 822.2,342.7 822.4,335.7 823.0,336.7 823.1,337.9 823.2,335.2 823.9,348.5 824.0,341.5 824.5,336.9 824.7,341.7 825.0,337.6 825.1,339.5 825.2,344.7 825.4,336.3 825.9,338.6 826.0,336.8 826.5,344.0 826.7,334.5 827.0,336.0 827.1,343.5 827.9,336.2 828.0,343.4 828.5,346.0 828.6,336.0 829.0,340.3 829.1,342.0 829.8,336.4 829.9,338.4 830.0,335.3 830.1,343.0 831.0,337.3 831.1,339.8 831.3,340.9 831.7,334.9 831.9,339.4 832.0,331.2 832.3,343.4 833.0,340.5 833.1,341.3 833.2,342.5 833.7,335.7 833.9,340.0 834.0,336.9 834.3,332.6 834.4,347.1 835.0,340.4 835.1,338.8 835.6,346.0 835.7,331.9 835.9,339.8 836.0,337.3 836.5,336.4 836.6,342.0 837.0,339.8 837.1,336.4 837.7,342.6 837.9,338.3 838.1,331.9 838.2,342.1 839.0,338.4 839.1,341.6 839.8,344.2 839.9,332.9 840.1,337.6 840.3,333.9 840.4,341.3 841.0,338.4 841.1,335.1 841.5,335.0 841.6,346.0 841.9,337.8 842.1,334.3 842.8,339.5 842.9,337.1 843.0,336.9 843.2,335.8 843.6,347.1 843.9,336.0 844.1,341.1 844.4,342.9 844.9,336.0 845.0,334.7 845.4,341.7 845.6,333.8 846.0,339.1 846.1,347.0 846.3,332.8 846.9,346.1 847.0,342.0 847.6,334.2 847.7,344.0 848.0,339.0 848.1,339.4 848.2,346.1 848.3,329.5 848.9,342.4 849.0,337.1 849.7,346.3 849.8,336.4 850.0,339.3 850.1,330.8 850.3,346.1 850.9,334.7 851.0,332.6 851.5,340.8 852.0,335.4 852.1,344.8 852.4,334.4 852.9,340.5 853.0,340.6 853.9,343.0 854.0,335.8 854.1,337.8 854.3,342.2 854.4,336.8 854.9,339.2 855.0,335.7 855.2,341.3 855.9,334.5 856.0,335.8 856.1,339.7 856.4,335.2 856.8,342.0 856.9,336.4 857.0,341.5 857.2,347.0 857.6,335.7 858.0,338.6 858.1,341.2 858.2,345.4 858.6,336.2 858.9,336.7 859.0,338.8 859.4,342.4 859.9,333.2 860.0,339.3 860.1,337.3 860.7,342.3 860.8,333.2 860.9,339.1 861.0,341.8 861.2,331.5 861.8,347.1 862.0,343.7 862.1,333.8 862.5,341.1 862.7,331.9 862.9,339.9 863.1,334.1 864.0,343.1 864.1,339.2 864.6,343.0 864.9,334.6 865.1,339.7 865.6,330.1 865.9,342.4 866.0,338.8 866.1,335.4 866.6,343.5 866.9,340.7 867.1,338.6 867.4,344.6 867.9,335.1 868.0,339.5 868.4,344.1 868.5,333.3 868.9,341.6 869.1,340.9 869.2,342.6 869.9,337.4 870.0,337.5 870.5,344.9 871.0,338.9 871.1,338.9 871.4,341.8 871.9,335.3 872.0,339.6 872.3,332.9 872.7,341.5 873.0,337.4 873.1,338.9 873.2,334.0 873.5,341.3 873.9,337.1 874.0,337.2 874.4,332.2 874.6,340.8 875.0,338.1 875.1,335.7 875.2,345.1 875.6,331.9 875.9,339.3 876.0,339.6 876.6,343.5 876.9,335.2 877.0,337.9 877.1,337.1 877.4,344.6 877.6,334.0 877.9,339.6 878.0,339.1 878.5,342.7 878.6,335.9 879.0,342.2 879.1,338.9 879.7,341.6 879.8,331.2 879.9,341.6 880.0,342.3 880.2,343.9 881.0,333.4 881.1,337.8 881.6,334.2 881.9,344.5 882.0,341.4 883.0,335.8 883.1,344.1 883.3,332.5 883.9,334.4 884.0,337.7 884.3,348.8 884.5,331.2 885.0,337.7 885.1,336.0 885.2,343.6 885.8,335.3 885.9,342.5 886.0,342.2 886.8,343.8 886.9,335.7 887.0,340.3 887.1,342.7 887.3,343.8 887.7,333.4 887.9,341.2 888.1,336.0 888.4,348.4 888.8,334.8 889.0,337.7 889.1,339.4 889.2,343.1 889.5,337.1 889.9,338.6 890.1,337.9 890.3,343.4 890.6,333.8 890.9,334.0 891.0,340.6 891.1,333.9 891.5,346.2 891.9,341.3 892.1,338.2 892.5,332.8 892.8,341.7 892.9,337.3 893.0,340.4 893.4,333.2 893.7,341.3 894.0,337.6 894.1,338.7 894.3,336.6 894.7,342.0 894.9,340.0 895.0,335.7 895.7,343.9 896.0,339.4 896.1,338.1 896.3,342.1 896.9,335.0 897.0,337.1 897.4,342.6 898.0,335.7 898.1,340.7 898.3,342.9 898.4,330.0 898.9,335.3 899.0,340.6 899.6,344.7 900.0,334.5 900.1,340.4 900.3,335.0 900.4,344.1 900.9,337.6 901.0,338.4 901.1,342.3 901.4,334.0 902.0,337.3 902.1,339.5 902.3,335.8 902.4,343.4 902.9,340.8 903.0,334.1 904.0,343.8 904.1,340.7 904.7,336.6 904.9,345.8 905.0,337.3 905.2,334.3 905.9,344.3 906.0,338.1 906.1,336.2 906.5,340.9 906.6,333.9 906.9,339.8 907.0,338.4 907.2,335.4 907.7,343.4 908.0,339.8 908.1,340.1 908.5,333.6 908.8,340.2 908.9,338.8 909.0,340.9 909.2,341.0 909.4,332.1 910.0,339.1 910.1,339.0 910.3,333.9 910.6,344.0 910.9,341.3 911.1,341.4 911.2,348.6 911.5,337.3 912.0,338.7 912.1,337.0 912.3,336.2 912.5,344.8 912.9,338.2 913.1,340.4 913.3,342.8 913.6,335.4 914.0,342.1 914.1,339.4 914.4,332.6 914.6,342.8 914.9,340.8 915.1,336.5 915.3,335.6 915.4,343.5 915.9,341.6 916.0,334.3 916.1,343.1 916.5,333.5 916.9,341.4 917.1,339.1 917.2,334.6 917.5,340.3 917.9,336.1 918.0,338.8 918.1,340.0 919.0,333.3 919.1,338.6 919.2,334.8 919.4,345.5 919.9,339.2 920.0,338.2 920.4,335.3 920.6,340.2 921.0,340.1 921.1,334.5 921.5,341.2 921.9,332.6 922.0,346.7 922.4,337.1 923.0,338.0 923.1,336.0 923.2,335.7 923.3,343.5 923.9,336.9 924.0,338.5 924.8,335.6 925.0,343.7 925.1,343.8 925.3,336.1 925.8,343.9 925.9,337.8 926.0,338.8 926.7,334.1 927.0,340.4 927.1,338.2 927.2,332.1 927.3,342.6 927.9,333.0 928.0,339.4 928.4,342.1 928.9,334.7 929.0,340.1 929.1,335.4 929.3,333.4 929.4,343.2 929.9,342.2 930.0,336.6 930.4,343.2 930.9,335.6 931.0,339.4 931.1,339.0 931.2,335.3 931.9,346.2 932.0,338.9 932.3,335.1 932.8,341.7 933.0,340.7 933.1,335.6 933.8,341.3 933.9,337.3 934.0,336.2 934.5,333.8 935.0,341.5 935.1,339.1 935.3,333.9 935.9,341.9 936.1,336.1 936.2,341.2 936.8,334.8 937.0,339.8 937.1,341.5 937.4,336.4 937.6,344.5 937.9,341.3 938.1,339.4 938.4,337.9 938.8,347.0 938.9,341.5 939.0,334.4 939.4,342.0 939.8,333.1 939.9,337.4 940.1,338.5 940.4,341.7 940.8,334.0 940.9,339.8 941.0,337.4 941.5,334.8 941.7,344.3 942.0,338.0 942.1,338.9 942.2,332.7 942.3,341.4 942.9,339.0 943.0,343.6 943.1,333.9 944.0,339.5 944.1,340.3 944.7,345.3 944.9,337.3 945.0,333.6 945.3,345.7 945.8,332.7 946.0,342.0 946.1,335.1 946.4,345.1 946.7,334.1 946.9,336.3 947.0,337.0 947.3,336.2 947.7,341.0 948.0,339.3 948.1,335.3 948.7,331.1 948.9,345.5 949.0,335.9 949.1,340.8 949.9,335.5 950.0,339.6 950.1,335.2 950.8,341.2 950.9,335.8 951.0,337.7 951.6,336.7 952.0,344.5 952.1,338.6 952.6,331.8 952.9,345.7 953.0,343.0 953.4,335.4 954.0,336.8 954.1,336.1 954.3,342.8 954.9,336.5 955.0,339.3 955.2,342.1 956.0,335.0 956.1,338.7 956.8,346.7 956.9,336.4 957.0,335.2 957.4,340.8 957.8,333.8 958.0,335.4 958.1,342.3 958.7,334.5 958.9,338.0 959.1,339.2 959.3,333.6 959.8,342.7 960.0,336.6 960.1,336.1 960.8,342.3 960.9,335.7 961.1,337.6 961.4,346.6 962.0,335.3 962.1,340.5 962.2,336.3 962.8,345.8 962.9,337.2 963.1,333.8 963.5,347.2 963.9,342.2 964.0,340.0 964.1,330.2 964.5,340.8 964.9,333.5 965.1,344.7 965.2,333.7 965.9,337.9 966.0,337.6 966.1,329.1 966.8,344.0 967.0,338.6 967.1,334.6 967.3,343.7 967.5,333.5 967.9,334.9 968.0,336.9 968.6,334.9 968.7,341.9 969.0,339.1 969.1,345.2 969.8,333.2 969.9,338.3 970.0,339.3 970.6,342.3 971.0,334.4 971.1,344.5 971.2,334.5 971.9,337.1 972.0,336.8 972.4,343.6 972.7,332.2 973.0,341.4 973.1,343.4 973.7,333.2 973.9,334.4 974.0,337.7 974.4,334.2 974.5,348.9 975.0,336.1 975.1,339.0 975.2,342.7 975.9,336.2 976.0,334.7 976.3,333.8 976.6,343.2 977.0,338.8 977.1,342.8 977.6,348.2 977.7,335.4 977.9,339.4 978.0,337.7 979.0,343.1 979.1,337.4 979.3,337.3 979.7,343.8 979.9,337.7 980.0,341.8 980.2,342.7 980.9,330.9 981.0,339.0 981.1,335.3 981.6,343.6 981.8,331.6 981.9,336.9 982.0,332.0 983.0,343.2 983.1,338.9 983.6,340.4 983.7,332.6 983.9,338.5 984.1,344.0 984.3,332.9 984.8,344.8 985.0,343.3 985.1,343.0 985.6,334.5 985.9,339.8 986.1,339.7 986.6,341.5 986.9,333.8 987.0,337.9 987.7,344.1 987.9,337.4 988.1,337.9 988.4,341.4 988.9,334.0 989.0,341.3 989.8,336.8 989.9,340.9 990.1,339.1 990.4,338.8 990.5,345.5 990.9,340.0 991.0,336.8 991.4,343.4 991.5,333.0 992.0,340.8 992.1,339.7 992.5,342.2 992.7,334.9 992.9,338.8 993.0,336.2 993.4,342.6 994.0,333.6 994.1,337.6 994.4,343.4 994.7,334.0 994.9,343.4 995.0,333.5 995.7,347.1 996.0,340.1 996.1,340.1 996.3,335.4 996.7,344.8 996.9,336.9 997.0,336.3 997.7,339.7 998.0,337.8 998.1,339.8 998.6,334.3 998.9,342.0 999.0,340.5 999.3,342.1 999.7,334.3 1000.0,338.1 1000.1,343.2 1000.4,336.2 1000.9,338.1 1001.0,341.8 1001.3,336.2 1001.4,341.9 1002.0,336.5 1002.1,336.4 1002.3,344.2 1002.6,335.5 1002.9,339.8 1003.0,336.6 1003.2,343.1 1004.0,338.6 1004.1,334.4 1004.7,343.2 1004.9,336.0 1005.0,337.8 1005.9,334.0 1006.0,342.6 1006.1,341.8 1006.8,332.8 1006.9,334.7 1007.0,335.8 1007.5,343.4 1008.0,341.1 1008.1,344.4 1008.3,345.3 1008.6,336.9 1008.9,339.2 1009.1,334.9 1009.5,344.4 1010.0,337.2 1010.1,338.6 1010.4,344.4 1010.7,336.0 1010.9,338.9 1011.1,342.5 1011.6,332.6 1011.8,342.6 1011.9,336.2 1012.0,342.9 1012.7,331.0 1012.9,339.9 1013.1,335.0 1013.3,331.4 1013.4,342.8 1013.9,340.4 1014.0,343.2 1014.6,334.7 1015.0,339.5 1015.1,341.5 1015.2,335.3 1015.9,338.9 1016.0,340.1 1016.1,342.4 1017.0,337.0 1017.1,339.2 1017.4,339.9 1017.7,337.0 1017.9,339.5 1018.0,337.7 1018.4,343.0 1019.0,333.2 1019.1,340.4 1019.2,335.7 1019.3,346.4 1019.9,343.4 1020.0,338.9 1020.6,337.3 1021.0,344.2 1021.1,337.1 1021.4,341.0 1021.8,331.9 1021.9,340.0 1022.0,336.3 1022.1,333.9 1023.0,342.1 1023.1,331.3 1023.2,341.1 1023.9,336.4 1024.0,333.5 1024.5,345.1 1025.0,338.1 1025.1,339.7 1025.3,347.2 1025.9,337.7 1026.0,335.1 1026.2,328.2 1026.7,342.0 1027.0,336.1 1027.1,337.2 1027.3,345.8 1027.6,335.2 1027.9,338.1 1028.0,334.9 1028.7,333.5 1028.9,344.3 1029.0,337.6 1029.1,335.7 1029.5,345.8 1029.9,342.9 1030.0,339.6 1030.2,341.4 1030.9,333.5 1031.0,334.3 1031.1,337.6 1031.5,344.6 1031.9,341.7 1032.1,335.1 1032.6,333.1 1033.0,340.6 1033.1,335.9 1033.6,341.1 1033.7,331.9 1033.9,339.5 1034.1,336.1 1034.3,340.1 1034.4,333.0 1035.0,336.3 1035.1,337.9 1035.5,343.3 1035.8,333.9 1035.9,338.0 1036.1,341.1 1036.7,345.0 1036.8,332.8 1036.9,338.5 1037.0,347.5 1037.8,333.8 1037.9,341.2 1038.1,338.9 1038.2,341.8 1038.8,334.2 1038.9,339.7 1039.0,335.2 1039.1,335.0 1040.0,343.9 1040.1,339.7 1040.2,337.8 1040.5,343.2 1040.9,339.1 1041.0,334.6 1041.4,333.4 1042.0,341.8 1042.1,333.7 1042.2,344.7 1042.9,331.4 1043.0,339.0 1043.1,336.2 1043.3,342.9 1044.0,337.5 1044.1,340.3 1044.3,342.6 1044.8,333.6 1044.9,338.7 1045.0,339.2 1045.5,341.3 1046.0,335.1 1046.1,335.5 1046.2,331.9 1046.3,340.7 1046.9,339.8 1047.0,335.9 1047.1,342.5 1047.5,335.6 1048.0,337.2 1048.1,339.2 1048.4,332.2 1048.6,339.7 1048.9,337.4 1049.0,340.0 1049.6,334.9 1050.0,338.6 1050.1,339.3 1050.7,335.5 1050.9,343.1 1051.0,338.9 1051.3,338.1 1051.6,343.8 1052.0,340.5 1052.1,334.1 1052.8,343.5 1052.9,338.1 1053.0,340.3 1053.2,332.1 1053.4,341.2 1054.0,339.6 1054.1,341.8 1054.8,332.8 1054.9,337.8 1055.0,336.7 1055.2,330.4 1056.0,345.1 1056.1,338.6 1056.3,333.5 1056.7,345.9 1056.9,337.9 1057.1,341.7 1057.2,335.0 1057.9,341.7 1058.0,341.4 1058.1,341.3 1058.9,336.2 1059.1,336.3 1059.4,339.8 1059.5,330.9 1059.9,337.6 1060.0,337.0 1060.6,347.5 1060.7,336.8 1060.9,337.7 1061.1,339.8 1061.3,336.4 1061.5,341.7 1061.9,340.9 1062.0,341.1 1062.7,341.5 1062.9,330.6 1063.1,333.8 1063.9,343.4 1064.0,337.4 1064.1,341.9 1065.0,337.9 1065.1,337.6 1065.2,334.2 1065.4,340.5 1065.9,340.4 1066.0,345.6 1066.1,334.1 1066.6,345.9 1067.0,338.2 1067.1,341.1 1067.9,334.8 1068.0,338.9 1068.6,332.8 1069.0,345.4 1069.1,341.3 1069.3,347.0 1069.9,332.0 1070.0,340.9 1070.4,335.3 1070.7,347.0 1071.0,339.4 1071.1,333.9 1071.3,332.8 1071.7,342.8 1071.9,339.8 1072.0,335.5 1072.5,333.1 1073.0,342.7 1073.1,335.0 1073.6,343.2 1073.9,332.4 1074.0,340.5 1074.6,335.4 1075.0,341.9 1075.1,334.7 1075.7,339.9 1075.8,330.8 1075.9,333.1 1076.0,336.6 1076.4,341.3 1077.0,340.8 1077.1,337.2 1077.3,341.2 1077.8,334.2 1077.9,339.5 1078.0,342.8 1078.4,336.2 1079.0,340.1 1079.1,344.2 1079.2,345.1 1079.5,333.3 1079.9,337.2 1080.1,341.3 1081.0,306.7 1081.1,304.2 1081.2,305.1 1081.9,286.6 1082.1,283.9 1082.9,266.4 1083.0,266.7 1083.1,263.8 1083.4,265.5 1083.8,260.6 1083.9,260.9 1084.1,265.0 1084.3,262.7 1084.5,270.8 1084.9,269.5 1085.0,271.4 1085.8,292.8 1085.9,291.1 1086.1,294.9 1086.9,324.5 1087.0,322.2 1087.8,353.4 1088.0,351.6 1088.1,362.8 1088.2,360.5 1088.9,383.1 1089.0,382.4 1089.4,403.4 1090.0,403.4 1090.1,401.8 1090.9,421.1 1091.0,412.0 1091.3,421.2 1092.0,407.7 1092.1,406.6 1092.9,390.8 1093.0,389.2 1094.0,363.2 1094.1,362.6 1094.9,336.7 1095.0,342.7 1095.9,332.5 1096.0,335.8 1096.1,339.5 1096.3,334.7 1096.4,341.3 1096.9,339.5 1097.0,333.7 1097.5,342.7 1097.9,328.2 1098.0,337.4 1098.1,340.4 1098.2,342.3 1098.8,336.7 1098.9,337.1 1099.0,337.2 1099.5,343.5 1099.7,336.7 1100.0,341.8 1100.1,336.0 1100.9,343.5 1101.0,337.5 1101.6,333.5 1101.7,339.4 1102.0,334.9 1102.1,337.6 1102.5,342.2 1102.9,334.9 1103.0,336.5 1103.5,333.8 1103.6,344.3 1104.0,337.5 1104.1,339.3 1104.3,333.1 1104.9,341.7 1105.1,334.5 1105.4,332.0 1105.9,342.1 1106.0,337.6 1106.1,335.7 1106.2,341.3 1106.8,332.0 1106.9,341.2 1107.1,339.0 1107.3,345.3 1107.4,334.9 1107.9,340.5 1108.0,343.0 1108.5,335.6 1108.9,337.4 1109.1,333.8 1109.3,342.8 1109.9,333.2 1110.0,343.1 1110.5,336.1 1110.9,343.8 1111.1,339.5 1111.3,333.5 1111.7,342.7 1111.9,338.5 1112.0,334.1 1112.5,333.5 1112.7,344.2 1113.0,336.3 1113.1,336.9 1113.5,344.7 1113.9,336.1 1114.0,339.5 1114.1,344.2 1114.5,334.0 1115.0,341.4 1115.1,340.4 1115.3,332.8 1115.5,345.2 1115.9,341.1 1116.0,340.5 1116.4,337.4 1116.7,342.1 1117.0,340.7 1117.1,340.2 1117.2,344.0 1117.7,334.0 1117.9,336.2 1118.0,333.6 1118.9,339.8 1119.0,338.9 1119.1,341.2 1119.2,332.0 1119.4,344.8 1119.9,338.7 1120.0,336.1 1120.5,331.7 1120.9,342.7 1121.0,338.7 1121.1,340.1 1121.3,337.4 1121.4,342.2 1121.9,341.6 1122.0,339.5 1122.5,342.7 1122.6,334.8 1123.0,337.8 1123.1,341.6 1123.3,343.4 1123.8,336.5 1123.9,341.2 1124.0,338.4 1124.5,333.8 1124.9,340.9 1125.0,338.5 1125.1,340.4 1125.2,332.6 1125.5,341.0 1125.9,338.2 1126.0,331.2 1126.4,329.3 1126.6,342.3 1127.0,336.4 1127.1,341.4 1127.2,344.9 1127.8,335.4 1127.9,339.3 1128.0,342.7 1128.4,343.2 1128.6,335.3 1129.0,335.8 1129.1,338.3 1129.3,344.0 1129.5,336.5 1129.9,342.0 1130.1,340.2 1130.2,343.5 1130.6,335.3 1131.0,338.2 1131.1,339.3 1131.6,334.8 1131.9,341.9 1132.1,341.5 1132.3,331.8 1132.4,342.6 1132.9,338.6 1133.0,335.6 1133.5,340.5 1133.9,334.7 1134.1,338.1 1134.3,342.2 1134.8,333.7 1134.9,340.6 1135.0,336.7 1135.2,344.9 1135.8,335.3 1136.0,339.3 1136.1,337.8 1136.7,342.5 1136.9,334.7 1137.0,336.5 1137.8,335.2 1138.0,343.4 1138.1,340.3 1138.3,342.6 1138.4,333.1 1138.9,336.9 1139.0,338.6 1139.1,348.1 1139.6,334.5 1140.0,337.6 1140.1,336.6 1140.5,341.6 1140.7,333.2 1140.9,337.8 1141.0,335.1 1141.1,332.1 1141.5,343.0 1142.0,341.6 1142.1,344.0 1142.7,344.9 1142.9,334.8 1143.0,336.2 1143.7,343.3 1144.0,337.0 1144.1,344.3 1144.2,344.9 1144.6,332.0 1144.9,335.9 1145.0,335.7 1145.1,344.0 1145.9,332.8 1146.0,334.8 1146.1,340.0 1146.2,343.2 1146.9,334.9 1147.0,340.0 1147.6,335.1 1147.7,341.9 1148.0,335.7 1148.1,340.2 1148.3,336.8 1148.7,342.6 1148.9,338.7 1149.0,339.7 1149.4,344.1 1149.9,330.2 1150.0,336.3 1150.1,337.3 1150.6,335.6 1150.8,343.7 1150.9,336.3 1151.0,340.3 1151.9,334.6 1152.0,341.2 1152.1,334.3 1152.2,342.8 1152.6,334.1 1152.9,341.6 1153.1,341.8 1153.3,332.2 1153.6,346.3 1154.0,339.9 1154.1,338.3 1154.3,335.0 1154.6,343.1 1154.9,339.0 1155.1,346.1 1155.4,347.2 1155.6,334.6 1156.0,339.6 1156.1,340.4 1156.5,343.9 1156.7,333.2 1156.9,338.7 1157.1,338.0 1157.3,343.3 1157.4,332.0 1157.9,340.3 1158.0,341.9 1158.2,343.2 1158.8,335.0 1158.9,336.9 1159.1,340.3 1159.2,343.6 1159.7,332.4 1159.9,343.3 1160.0,340.5 1160.1,334.6 1160.2,341.0 1161.0,336.6 1161.1,344.5 1161.5,333.4 1161.9,345.3 1162.0,342.6 1162.1,335.5 1162.5,344.2 1163.0,339.3 1163.1,337.9 1163.4,336.4 1163.5,348.9 1163.9,336.5 1164.0,337.2 1164.4,336.6 1164.7,342.7 1165.0,339.8 1165.1,334.2 1165.2,342.5 1165.9,341.9 1166.0,338.7 1166.1,336.0 1166.5,343.2 1167.0,337.9 1167.1,343.4 1167.3,334.0 1167.9,336.2 1168.0,344.8 1168.3,333.1 1169.0,347.0 1169.1,337.2 1169.2,342.5 1169.9,333.6 1170.0,335.9 1170.5,334.2 1170.9,346.7 1171.0,340.6 1171.1,340.5 1171.3,342.8 1171.7,333.1 1171.9,340.3 1172.0,341.1 1172.2,337.0 1172.5,348.3 1173.0,341.6 1173.1,337.9 1173.2,342.4 1173.6,335.9 1173.9,339.8 1174.0,339.5 1174.3,342.9 1175.0,332.8 1175.1,338.0 1175.2,342.0 1175.7,335.4 1175.9,338.5 1176.0,335.9 1176.9,340.6 1177.0,329.3 1177.1,338.0 1177.3,343.8 1177.8,335.1 1177.9,339.8 1178.1,342.0 1178.8,344.6 1178.9,338.4 1179.0,339.2 1179.1,339.3 1179.6,344.2 1179.7,335.7 1179.9,337.3 1180.1,334.0 1180.2,342.6 1180.9,333.3 1181.0,339.5 1181.4,334.2 1181.5,343.2 1181.9,340.8 1182.1,340.1 1182.5,340.6 1182.9,337.9 1183.0,340.7 1183.7,345.3 1183.8,331.8 1183.9,334.9 1184.1,336.9 1184.5,342.5 1184.9,331.2 1185.0,339.0 1185.7,342.4 1186.0,333.4 1186.1,341.6 1186.3,332.5 1186.9,337.1 1187.0,338.5 1187.3,345.5 1187.7,335.8 1188.0,340.6 1188.1,339.9 1188.5,335.8 1188.8,341.8 1188.9,339.0 1189.0,338.5 1189.1,335.0 1189.4,345.7 1190.0,340.2 1190.1,333.6 1190.2,346.1 1190.9,338.4 1191.0,337.3 1191.9,334.1 1192.0,345.1 1192.1,337.7 1192.3,342.2 1192.7,336.1 1192.9,336.6 1193.0,334.1 1193.6,341.6 1194.0,332.9 1194.1,336.0 1194.2,341.3 1194.4,334.3 1194.9,334.3 1195.0,341.0 1195.2,335.8 1196.0,338.8 1196.1,339.3 1196.3,335.4 1196.5,343.2 1196.9,339.0 1197.0,333.7 1197.7,332.7 1197.9,340.7 1198.0,335.0 1198.1,340.1 1198.2,347.7 1198.8,334.7 1198.9,342.8 1199.0,343.5 1199.5,343.7 1199.8,330.9 1200.0,339.8 1200.1,341.2 1200.5,343.4 1200.7,335.7 1200.9,337.9 1201.0,335.5 1201.6,345.0 1202.0,339.5 1202.1,334.9 1202.9,341.9 1203.1,333.6 1203.9,340.7 1204.0,337.3 1204.1,336.5 1204.2,340.6 1204.9,339.8 1205.1,339.5 1205.3,335.1 1205.4,344.0 1205.9,340.3 1206.0,335.2 1206.4,343.3 1206.9,337.5 1207.1,336.7 1207.2,340.4 1207.5,336.1 1207.9,338.7 1208.0,339.6 1208.6,331.2 1208.8,342.9 1209.0,341.7 1209.1,339.7 1209.3,345.7 1209.9,335.0 1210.0,348.3 1210.8,333.1 1211.0,337.8 1211.1,342.5 1211.8,332.7 1211.9,339.0 1212.0,340.7 1212.1,334.3 1213.0,341.1 1213.1,333.7 1213.4,341.5 1213.9,338.2 1214.0,338.0 1214.3,335.8 1214.5,340.0 1215.0,337.1 1215.1,339.7 1215.4,337.2 1215.6,341.9 1215.9,338.4 1216.0,340.7 1216.4,337.1 1216.5,344.8 1217.0,338.1 1217.1,347.9 1217.9,333.8 1218.0,342.8 1218.6,333.7 1219.0,339.2 1219.1,341.0 1219.2,344.9 1219.8,338.4 1219.9,341.9 1220.0,337.9 1220.4,343.6 1220.6,336.0 1221.0,336.8 1221.1,336.3 1221.3,330.3 1221.9,341.7 1222.0,339.5 1222.5,341.3 1222.6,335.1 1223.0,338.4 1223.1,340.6 1223.3,346.3 1223.9,332.6 1224.0,334.9 1224.3,344.2 1225.0,334.1 1225.1,337.0 1225.5,329.5 1225.9,341.0 1226.1,339.3 1226.8,347.3 1226.9,336.9 1227.0,345.3 1227.1,341.2 1227.6,342.1 1227.9,335.4 1228.1,337.9 1228.4,333.9 1229.0,344.1 1229.1,335.7 1229.2,335.2 1229.5,344.6 1229.9,342.6 1230.1,339.5 1230.2,336.5 1230.7,343.2 1230.9,339.4 1231.0,336.4 1231.8,343.6 1231.9,336.9 1232.1,339.0 1232.4,335.5 1232.5,341.6 1232.9,338.6 1233.0,339.1 1233.7,341.8 1233.8,332.7 1234.0,335.4 1234.1,342.3 1234.7,333.5 1234.9,339.9 1235.0,340.7 1235.5,339.6 1235.8,346.8 1236.0,339.6 1236.1,332.9 1236.7,340.4 1236.9,338.3 1237.0,335.6 1237.5,343.4 1237.8,335.1 1238.0,336.4 1238.1,340.6 1238.6,332.0 1238.7,341.8 1238.9,334.5 1239.0,342.0 1239.1,332.1 1240.0,340.8 1240.1,346.0 1240.3,334.8 1240.9,340.5 1241.0,340.5 1241.3,344.2 1241.4,334.4 1242.0,337.6 1242.1,335.0 1242.3,333.8 1242.4,339.9 1242.9,336.6 1243.0,341.9 1243.2,334.6 1243.7,342.1 1244.0,335.8 1244.1,330.9 1244.6,343.7 1244.9,335.1 1245.0,334.2 1245.5,346.4 1246.0,341.6 1246.1,339.0 1246.5,335.0 1246.8,340.7 1246.9,339.7 1247.0,338.0 1247.4,332.8 1247.9,340.7 1248.0,337.7 1248.1,346.3 1248.9,334.9 1249.0,340.3 1249.8,335.3 1250.0,345.2 1250.1,335.7 1250.6,332.4 1250.7,341.3 1250.9,339.9 1251.1,335.3 1251.4,334.7 1251.8,341.5 1252.0,340.5 1252.1,335.8 1252.8,339.3 1252.9,337.6 1253.1,341.6 1253.5,336.0 1253.8,344.8 1253.9,337.4 1254.0,338.5 1254.7,332.7 1254.9,340.4 1255.1,334.5 1255.2,342.3 1255.9,335.3 1256.0,336.6 1256.6,340.5 1256.7,336.0 1257.0,338.7 1257.1,337.2 1257.8,334.3 1257.9,340.0 1258.0,339.9 1258.2,345.7 1258.6,334.2 1259.0,340.3 1259.1,332.6 1259.7,342.0 1259.9,341.9 1260.0,338.3 1260.6,336.2 1260.8,342.8 1261.0,339.5 1261.1,340.2 1261.9,335.8 1262.0,338.5 1262.4,343.2 1262.6,336.2 1263.0,342.1 1263.1,337.4 1263.3,335.0 1263.6,344.1 1263.9,337.1 1264.0,337.2 1264.6,334.7 1265.0,344.8 1265.1,337.6 1265.4,335.4 1265.7,346.5 1265.9,338.6 1266.0,341.6 1266.3,335.7 1267.0,342.5 1267.1,337.7 1267.3,334.1 1267.7,341.0 1267.9,338.9 1268.0,336.6 1268.2,335.8 1268.9,344.4 1269.0,340.0 1269.1,340.4 1269.3,340.9 1269.6,336.3 1269.9,339.9 1270.0,341.0 1270.2,341.2 1270.7,336.4 1271.0,339.7 1271.1,337.3 1271.5,342.5 1271.6,337.0 1271.9,342.0 1272.0,333.6 1272.2,342.1 1273.0,331.4 1273.1,340.1 1273.3,342.9 1273.6,337.0 1273.9,339.7 1274.1,339.8 1274.3,336.2 1274.5,344.0 1275.0,341.3 1275.1,335.8 1275.2,332.2 1275.3,340.6 1275.9,333.0 1276.1,339.5 1276.3,333.2 1276.5,347.3 1277.0,338.5 1277.1,340.3 1277.4,332.5 1277.5,343.8 1277.9,342.3 1278.1,342.3 1278.2,336.2 1278.6,342.7 1278.9,336.3 1279.0,342.9 1279.8,346.9 1279.9,333.5 1280.1,334.0 1280.7,342.3 1280.8,332.3 1280.9,340.8 1281.0,335.3 1281.5,341.4 1282.0,340.0 1282.1,338.8 1282.2,335.1 1282.5,340.8 1282.9,340.1 1283.0,341.0 1283.1,334.7 1284.0,343.4 1284.1,340.4 1284.4,335.9 1284.9,339.1 1285.0,336.3 1285.1,344.3 1285.8,336.1 1286.0,342.4 1286.1,334.1 1286.4,343.0 1286.9,339.9 1287.0,343.6 1287.5,336.6 1288.0,339.4 1288.1,346.1 1288.8,332.7 1288.9,338.2 1289.0,336.5 1289.4,342.2 1289.6,335.9 1290.0,339.4 1290.1,337.5 1290.2,334.8 1290.3,343.6 1290.9,337.5 1291.0,335.4 1291.2,344.3 1292.0,342.6 1292.1,341.9 1292.2,330.7 1292.9,337.6 1293.0,340.7 1293.2,347.9 1294.0,334.1 1294.1,344.8 1294.3,335.6 1294.9,336.2 1295.0,338.9 1295.6,341.7 1295.9,333.8 1296.0,334.3 1296.1,336.6 1296.2,339.6 1296.8,335.8 1296.9,336.2 1297.0,342.8 1297.2,336.7 1298.0,340.5 1298.1,340.4 1298.2,343.3 1298.9,337.0 1299.1,342.9 1299.8,334.9 1300.0,336.7 1300.1,337.8 1300.6,328.4 1300.9,343.6 1301.1,343.8 1301.2,332.2 1301.9,340.8 1302.0,337.0 1302.1,334.2 1302.7,342.9 1302.9,340.5 1303.1,342.5 1303.5,337.1 1303.9,338.8 1304.0,340.4 1304.1,342.1 1304.9,333.7 1305.1,339.6 1305.3,340.7 1305.4,335.2 1305.9,339.1 1306.0,341.4 1306.5,333.4 1307.0,335.8 1307.1,337.9 1307.5,332.2 1307.7,342.0 1307.9,340.1 1308.0,331.2 1308.1,340.1 1309.0,332.6 1309.1,342.0 1309.2,344.1 1309.8,335.6 1309.9,336.3 1310.0,337.1 1310.3,338.2 1310.6,333.7 1311.0,334.7 1311.1,335.5 1311.8,334.3 1311.9,342.9 1312.0,341.0 1312.1,344.5 1312.7,333.9 1313.0,337.8 1313.1,337.2 1313.7,341.0 1313.9,331.6 1314.0,341.5 1314.7,334.6 1315.0,338.5 1315.1,332.1 1315.9,342.4 1316.0,342.0 1316.5,334.8 1316.9,343.7 1317.0,341.5 1317.1,339.2 1317.7,342.9 1317.9,337.4 1318.0,341.0 1318.2,328.3 1318.3,346.3 1319.0,335.1 1319.1,336.9 1319.3,333.7 1319.5,343.2 1319.9,339.0 1320.0,339.2 1320.9,336.3 1321.0,346.2 1321.1,341.5 1321.2,342.3 1321.7,335.6 1321.9,338.3 1322.0,337.0 1322.4,334.4 1323.0,341.1 1323.1,344.7 1323.9,338.7 1324.1,339.3 1324.6,344.3 1324.9,332.7 1325.0,340.0 1325.1,334.3 1325.8,344.1 1325.9,338.2 1326.1,338.3 1326.5,331.7 1326.8,339.1 1326.9,337.9 1327.0,338.7 1327.1,334.7 1327.6,346.9 1327.9,341.6 1328.1,338.8 1328.3,331.1 1328.9,341.6 1329.0,339.5 1329.1,343.8 1329.5,336.4 1330.0,341.9 1330.1,340.4 1330.8,333.2 1330.9,341.8 1331.0,338.2 1331.1,346.2 1331.7,329.8 1332.0,333.8 1332.1,338.6 1332.5,344.6 1332.8,333.4 1332.9,337.6 1333.0,342.6 1333.3,334.7 1333.6,343.1 1334.0,335.5 1334.1,341.8 1334.3,346.1 1334.4,334.6 1334.9,337.3 1335.0,335.4 1335.1,343.9 1335.4,331.6 1336.0,335.9 1336.1,336.0 1336.2,342.0 1336.9,341.7 1337.0,340.0 1337.5,335.5 1337.7,342.6 1338.0,340.1 1338.1,344.0 1338.4,335.5 1338.9,341.0 1339.0,334.8 1339.1,342.6 1340.0,339.3 1340.1,342.1 1340.3,344.6 1340.9,333.8 1341.0,337.3 1341.7,345.0 1342.0,334.4 1342.1,338.3 1342.5,340.8 1342.9,334.3 1343.0,342.3 1343.9,334.2 1344.0,334.2 1344.1,338.4 1344.3,341.7 1344.5,333.4 1344.9,333.9 1345.0,340.8 1345.6,344.9 1345.8,335.5 1346.0,338.2 1346.1,343.0 1346.2,331.3 1346.5,344.7 1346.9,342.9 1347.1,342.8 1347.5,334.7 1347.8,345.8 1348.0,335.3 1348.1,342.4 1348.8,334.2 1348.9,336.7 1349.1,338.6 1349.6,343.2 1350.0,335.3 1350.1,334.0 1350.2,342.9 1350.6,333.1 1350.9,339.9 1351.1,337.4 1351.5,334.1 1351.7,341.9 1351.9,334.5 1352.0,335.2 1352.9,342.4 1353.1,340.9 1353.4,333.2 1353.9,342.1 1354.0,337.8 1354.5,330.1 1355.0,346.4 1355.1,337.0 1355.7,330.0 1355.8,341.9 1355.9,341.0 1356.0,339.1 1356.1,339.8 1356.2,333.1 1357.0,339.4 1357.1,338.9 1357.5,334.5 1357.7,342.4 1357.9,336.1 1358.0,338.8 1358.3,334.9 1358.4,339.8 1359.0,335.9 1359.1,333.9 1359.9,343.9 1360.0,333.4 1360.1,339.9 1361.0,339.5 1361.1,335.0 1361.8,342.9 1361.9,334.0 1362.0,339.6 1362.6,336.3 1362.9,341.9 1363.0,338.9 1363.1,338.9 1363.3,334.7 1363.4,341.7 1363.9,339.1 1364.0,341.2 1364.4,343.8 1364.7,332.7 1365.0,340.2 1365.1,335.5 1365.6,344.2 1365.9,337.0 1366.0,340.0 1366.7,343.6 1367.0,336.7 1367.1,339.6 1367.7,345.3 1367.8,332.4 1367.9,333.9 1368.0,340.3 1368.9,331.2 1369.0,338.9 1369.1,340.6 1369.2,335.6 1369.9,340.1 1370.0,341.0 1370.3,333.1 1370.6,341.7 1371.0,338.2 1371.1,343.9 1371.2,345.0 1371.7,336.1 1371.9,340.2 1372.1,340.1 1372.2,340.9 1372.8,337.2 1373.0,338.6 1373.1,341.1 1373.7,332.3 1373.8,345.4 1373.9,336.8 1374.1,338.0 1374.3,333.2 1374.8,342.2 1374.9,338.4 1375.0,341.0 1375.1,337.2 1375.2,343.9 1375.9,339.4 1376.1,334.3 1376.3,342.5 1376.9,336.4 1377.0,334.5 1377.8,342.0 1377.9,339.7 1378.1,339.0 1378.5,337.4 1378.8,341.0 1378.9,339.9 1379.0,342.2 1379.6,335.5 1380.0,343.1 1380.1,336.0 1380.8,343.0 1380.9,340.3 1381.0,344.4 1381.6,334.0 1382.0,339.9 1382.1,332.4 1382.8,342.0 1382.9,336.0 1383.0,341.4 1383.1,333.7 1383.6,343.8 1384.0,342.5 1384.1,342.3 1384.3,345.0 1384.7,332.8 1384.9,337.3 1385.0,344.0 1385.6,335.7 1386.0,337.4 1386.1,338.0 1386.4,336.4 1386.9,340.8 1387.0,335.0 1387.3,344.9 1388.0,334.2 1388.1,344.5 1388.4,335.5 1388.9,340.1 1389.0,335.0 1389.5,333.7 1389.9,340.9 1390.0,335.6 1390.1,342.2 1390.7,333.0 1390.9,337.7 1391.0,338.1 1391.6,341.0 1392.0,333.6 1392.1,336.1 1392.2,345.2 1392.9,333.9 1393.0,340.9 1393.4,341.8 1393.5,335.5 1394.0,335.5 1394.1,339.8 1394.5,342.7 1394.7,331.7 1394.9,341.5 1395.0,338.7 1395.8,345.5 1395.9,336.6 1396.0,337.5 1396.1,336.2 1396.3,344.9 1396.9,343.5 1397.1,344.4 1397.4,336.5 1398.0,338.4 1398.1,339.3 1398.2,345.7 1398.5,333.6 1398.9,338.1 1399.1,333.5 1399.9,344.6 1400.0,342.2 1400.1,343.1 1400.7,333.7 1400.9,335.1 1401.1,339.5 1401.3,339.6 1401.4,335.4 1401.9,335.6 1402.0,341.7 1403.0,334.8 1403.1,337.3 1403.2,345.2 1403.8,333.6 1403.9,339.8 1404.0,336.1 1404.4,343.5 1404.6,334.3 1405.0,338.5 1405.1,336.2 1405.4,341.8 1405.7,333.0 1405.9,340.3 1406.0,344.4 1406.5,335.7 1406.6,345.6 1407.0,336.5 1407.1,337.4 1407.2,333.5 1407.6,344.8 1407.9,338.8 1408.0,335.5 1408.3,346.6 1408.4,333.1 1409.0,338.1 1409.1,337.7 1409.3,341.5 1409.6,332.3 1409.9,332.5 1410.0,337.8 1410.7,342.8 1410.9,332.2 1411.0,336.9 1411.1,331.8 1411.4,342.4 1411.9,339.9 1412.0,339.5 1412.6,340.6 1412.7,334.8 1413.0,339.6 1413.1,335.0 1413.4,342.9 1413.7,334.3 1413.9,341.4 1414.0,342.2 1414.2,343.6 1414.7,330.0 1415.0,343.3 1415.1,337.8 1415.8,345.1 1415.9,336.8 1416.0,344.3 1416.9,332.7 1417.0,340.7 1417.1,337.8 1417.6,335.6 1417.8,347.5 1417.9,339.5 1418.0,337.7 1418.4,335.0 1418.9,342.7 1419.0,335.7 1419.1,340.5 1419.3,334.0 1419.5,342.7 1419.9,340.3 1420.1,337.5 1420.5,332.9 1420.8,344.4 1421.0,341.7 1421.1,337.8 1421.8,345.4 1421.9,332.1 1422.1,341.5 1422.2,344.8 1422.9,333.6 1423.0,336.8 1423.8,342.8 1423.9,333.6 1424.1,342.2 1424.5,334.9 1424.7,343.7 1424.9,341.0 1425.0,339.2 1425.4,333.9 1425.9,343.6 1426.1,344.7 1426.9,334.3 1427.0,334.6 1427.2,332.8 1427.8,343.7 1428.0,334.8 1428.1,341.0 1428.7,342.8 1428.9,335.5 1429.0,338.3 1429.3,331.2 1430.0,342.5 1430.1,338.4 1430.2,331.3 1430.4,342.2 1430.9,340.5 1431.0,340.6 1431.6,334.1 1432.0,343.8 1432.1,339.6 1432.3,335.0 1432.7,343.1 1432.9,342.4 1433.0,333.0 1433.9,345.1 1434.0,338.2 1434.1,341.9 1434.2,346.0 1434.7,329.6 1434.9,341.6 1435.0,337.8 1435.5,333.7 1435.7,344.7 1436.0,339.2 1436.1,338.4 1436.2,332.3 1436.9,342.6 1437.0,334.2 1437.5,344.0 1438.0,336.3 1438.1,346.5 1438.7,332.2 1438.9,338.7 1439.0,335.8 1439.2,332.8 1439.9,342.4 1440.0,340.4 1440.1,341.3 1440.2,341.9 1440.8,335.8 1440.9,336.4 1441.0,341.9 1441.2,344.6 1441.3,330.6 1442.0,339.0 1442.1,340.5 1442.8,337.0 1442.9,342.2 1443.0,337.7 1443.4,333.5 1443.6,345.5 1444.0,341.9 1444.1,337.4 1444.5,342.8 1444.9,335.7 1445.1,340.7 1445.8,346.2 1446.0,333.6 1446.1,338.5 1446.4,344.5 1446.9,333.9 1447.1,336.3 1447.3,332.3 1447.8,343.3 1447.9,340.5 1448.0,340.2 1448.1,330.0 1448.8,341.7 1448.9,341.3 1449.1,336.9 1449.5,344.7 1449.9,330.4 1450.0,338.2 1450.6,342.3 1450.8,337.2 1451.0,338.6 1451.1,347.7 1451.4,335.6 1451.9,340.8 1452.0,338.6 1452.5,341.4 1452.8,332.9 1453.0,341.2 1453.1,339.0 1453.3,341.7 1453.7,335.4 1453.9,337.6 1454.0,331.6 1454.5,342.6 1455.0,337.0 1455.1,336.4 1455.7,344.4 1455.9,341.4 1456.0,338.1 1456.1,331.6 1456.6,342.3 1457.0,341.4 1457.1,340.1 1457.4,340.4 1457.6,335.1 1457.9,337.8 1458.0,344.1 1458.5,334.0 1459.0,338.1 1459.1,342.8 1459.4,334.9 1459.9,337.0 1460.0,347.9 1460.9,336.8 1461.0,341.3 1461.1,337.5 1461.3,342.0 1461.8,334.7 1461.9,337.4 1462.0,341.5 1462.3,335.2 1463.0,336.4 1463.1,335.3 1463.2,342.8 1463.9,335.1 1464.0,335.8 1464.6,342.2 1465.0,333.6 1465.1,338.9 1465.5,334.2 1465.9,343.4 1466.0,334.9 1466.3,333.7 1466.5,344.1 1467.0,339.4 1467.1,339.9 1467.2,333.6 1467.3,345.7 1467.9,338.9 1468.1,337.1 1468.5,343.3 1469.0,339.4 1469.1,334.9 1469.7,345.4 1469.9,336.1 1470.1,338.2 1470.3,343.1 1470.9,333.9 1471.0,342.0 1471.1,341.5 1471.9,335.4 1472.1,339.1 1472.2,343.1 1472.7,335.6 1472.9,336.6 1473.0,336.0 1473.6,334.2 1473.8,342.8 1473.9,336.9 1474.1,339.2 1474.2,343.0 1474.8,336.1 1474.9,336.4 1475.0,336.2 1475.1,339.5 1475.4,333.4 1476.0,338.4 1476.1,337.3 1476.2,335.5 1476.8,342.9 1476.9,335.7 1477.0,337.3 1477.1,341.6 1477.6,332.6 1478.0,339.9 1478.1,337.7 1478.4,344.3 1478.5,334.3 1478.9,334.6 1479.0,335.6 1479.1,344.0 1480.0,337.4 1480.1,341.2 1480.6,335.6 1480.7,343.6 1480.9,341.0 1481.0,338.4 1481.6,335.0 1481.8,344.3 1482.0,338.9 1482.1,337.9 1482.4,334.9 1482.8,342.6 1482.9,336.8 1483.0,337.0 1483.7,331.6 1484.0,344.2 1484.1,339.1 1484.3,342.2 1484.8,334.8 1484.9,340.2 1485.0,330.7 1485.4,342.8 1486.0,336.3 1486.1,334.9 1486.4,344.1 1486.9,340.0 1487.0,342.6 1487.5,335.8 1488.0,341.5 1488.1,336.2 1488.6,334.7 1488.8,346.9 1488.9,341.7 1489.0,342.7 1489.6,345.3 1490.0,336.2 1490.1,337.0 1490.7,340.2 1490.9,333.5 1491.0,342.2 1491.2,342.6 1491.4,335.3 1492.0,338.8 1492.1,342.9 1492.2,344.5 1492.7,332.5 1492.9,342.5 1493.1,337.9 1493.2,340.6 1493.4,336.0 1494.0,336.1 1494.1,338.9 1494.3,334.7 1494.8,344.7 1494.9,341.5 1495.1,334.8 1495.6,342.4 1495.8,334.1 1495.9,340.5 1496.0,339.9 1496.1,341.9 1496.8,334.7 1496.9,341.1 1497.1,343.0 1497.8,334.2 1497.9,338.6 1498.0,339.7 1498.2,344.1 1498.6,335.4 1498.9,339.7 1499.1,339.5 1499.2,333.3 1499.7,343.6 1499.9,341.2 1500.0,337.5 1500.2,331.6 1500.5,344.9 1501.0,341.1 1501.1,337.2 1501.4,336.2 1501.8,342.5 1501.9,340.8 1502.0,336.7 1502.1,334.9 1502.6,341.4 1503.0,335.8 1503.1,335.1 1503.4,341.7 1503.9,336.9 1504.0,342.8 1504.6,350.2 1504.8,332.6 1505.0,340.5 1505.1,335.8 1505.6,334.5 1505.7,344.6 1505.9,341.3 1506.0,336.7 1506.6,345.1 1506.7,332.5 1507.0,337.2 1507.1,338.7 1507.7,346.9 1507.9,333.9 1508.0,340.8 1508.1,344.5 1508.3,334.0 1509.0,335.0 1509.1,336.7 1509.4,344.7 1509.7,333.9 1509.9,343.3 1510.0,336.7 1510.4,341.1 1510.6,332.1 1511.0,337.9 1511.1,339.1 1511.2,333.9 1511.7,342.0 1511.9,335.8 1512.0,338.4 1512.3,343.0 1512.6,336.8 1513.0,340.8 1513.1,338.2 1513.2,343.7 1513.3,333.0 1513.9,334.2 1514.0,337.9 1514.6,333.0 1515.0,342.6 1515.1,337.7 1515.6,332.1 1515.7,344.3 1515.9,339.7 1516.0,339.2 1516.9,340.6 1517.0,335.7 1517.1,332.2 1517.6,344.6 1517.9,340.2 1518.1,341.8 1518.3,334.7 1519.0,338.9 1519.1,340.2 1519.6,345.9 1519.8,337.9 1519.9,340.4 1520.1,335.2 1520.2,335.0 1520.9,341.3 1521.0,340.7 1521.1,336.8 1521.8,345.5 1521.9,340.0 1522.1,337.7 1522.4,330.7 1522.8,342.6 1522.9,339.5 1523.0,339.3 1523.4,342.7 1523.5,337.0 1524.0,338.0 1524.1,340.2 1524.2,345.6 1524.7,336.7 1524.9,337.5 1525.0,342.5 1525.6,346.9 1526.0,334.4 1526.1,341.9 1526.2,337.3 1526.3,343.3 1526.9,339.3 1527.0,333.9 1527.4,341.6 1528.0,340.8 1528.1,334.5 1528.4,334.0 1528.7,343.1 1528.9,337.8 1529.0,341.0 1529.4,332.6 1530.0,342.3 1530.1,338.3 1530.9,334.5 1531.0,342.1 1531.1,332.4 1531.4,342.8 1532.0,338.8 1532.1,334.0 1532.9,343.0 1533.0,338.7 1533.5,335.3 1534.0,345.1 1534.1,338.0 1534.6,335.3 1534.7,340.5 1534.9,335.9 1535.0,340.3 1535.4,343.4 1535.7,334.0 1536.0,336.4 1536.1,331.8 1536.9,342.4 1537.0,341.7 1537.3,342.4 1538.0,333.5 1538.1,339.2 1538.6,335.4 1538.8,348.7 1538.9,338.7 1539.0,338.0 1539.5,344.9 1539.6,337.9 1540.0,340.0 1540.1,338.6 1540.2,335.3 1540.7,340.2 1540.9,337.6 1541.1,340.3 1541.2,334.5 1541.4,341.3 1542.0,339.7 1542.1,340.3 1542.6,344.1 1542.8,337.4 1542.9,338.1 1543.1,339.5 1543.4,343.3 1543.9,333.1 1544.0,340.1 1544.1,334.8 1544.5,344.1 1544.9,341.3 1545.1,338.2 1545.3,334.5 1545.5,342.2 1545.9,340.7 1546.0,340.0 1546.1,335.6 1546.2,343.6 1546.9,339.4 1547.1,339.3 1547.2,339.8 1547.4,335.1 1547.9,339.4 1548.0,339.4 1548.6,346.1 1549.0,335.7 1549.1,334.3 1549.5,344.2 1549.9,339.7 1550.0,344.6 1550.8,336.0 1551.0,336.2 1551.1,337.3 1551.3,343.2 1551.4,334.6 1551.9,338.6 1552.0,334.8 1552.4,330.0 1552.5,340.7 1553.0,340.2 1553.1,336.6 1553.6,341.8 1553.9,335.4 1554.0,337.6 1554.1,344.7 1554.7,332.5 1555.0,337.2 1555.1,337.1 1555.3,344.5 1555.4,336.1 1555.9,337.3 1556.0,338.3 1556.4,335.2 1557.0,346.4 1557.1,342.6 1557.3,335.9 1557.9,344.7 1558.0,340.4 1558.2,332.2 1558.4,340.8 1559.0,338.3 1559.1,341.2 1559.3,342.3 1559.8,337.3 1559.9,338.0 1560.0,338.6 1560.6,335.7 1560.7,344.2 1561.0,339.6 1561.1,340.1 1561.3,331.9 1561.8,343.6 1561.9,339.1 1562.0,338.1 1562.3,342.9 1563.0,330.7 1563.1,337.1 1563.7,344.6 1563.9,339.0 1564.0,339.9 1564.2,345.6 1564.5,335.1 1565.0,344.3 1565.1,340.3 1565.6,344.2 1565.8,336.6 1565.9,337.9 1566.1,335.9 1566.3,331.3 1566.6,345.9 1567.0,332.4 1567.1,340.5 1567.4,349.4 1567.8,337.4 1567.9,342.2 1568.1,338.1 1568.3,344.3 1568.5,335.5 1568.9,337.1 1569.0,339.8 1569.2,333.3 1569.4,342.3 1569.9,340.2 1570.1,338.6 1570.4,345.4 1570.9,335.6 1571.0,336.5 1571.5,341.9 1571.9,339.5 1572.1,339.5 1572.3,334.6 1572.8,342.4 1572.9,339.7 1573.0,343.3 1574.0,338.5 1574.1,341.2 1574.2,341.7 1574.9,332.4 1575.0,335.2 1575.1,345.4 1576.0,335.3 1576.1,340.2 1576.4,334.8 1576.9,339.2 1577.0,335.7 1577.1,333.0 1577.7,342.2 1578.0,337.4 1578.1,341.1 1578.4,335.7 1578.8,347.1 1578.9,339.4 1579.0,342.5 1579.7,335.1 1580.0,340.3 1580.1,336.5 1580.2,335.6 1580.9,346.0 1581.0,337.0 1581.1,335.9 1581.6,342.7 1582.0,342.7 1582.1,335.4 1582.3,347.7 1582.9,337.3 1583.0,336.8 1583.4,340.8 1583.6,330.4 1584.0,337.1 1584.1,334.8 1584.2,342.7 1584.9,339.3 1585.0,337.3 1585.4,334.7 1585.6,344.8 1586.0,338.9 1586.1,343.7 1586.7,335.1 1586.9,338.0 1587.0,339.6 1587.2,343.6 1587.9,332.5 1588.0,340.6 1588.1,340.6 1588.5,345.3 1588.8,336.5 1588.9,337.7 1589.1,336.4 1589.8,334.2 1589.9,342.4 1590.0,335.3 1590.1,336.3 1590.3,343.8 1590.9,339.4 1591.1,343.0 1591.6,343.1 1591.9,333.6 1592.0,338.5 1592.1,343.1 1592.8,338.4 1592.9,342.5 1593.1,335.9 1593.2,334.1 1593.4,343.6 1593.9,337.2 1594.0,336.5 1594.5,340.7 1594.6,335.4 1594.9,336.0 1595.1,337.3 1595.4,344.6 1595.9,337.6 1596.0,342.6 1596.4,336.2 1596.7,342.8 1597.0,337.9 1597.1,335.8 1597.7,342.7 1597.8,333.5 1597.9,339.4 1598.0,335.1 1599.0,341.4 1599.1,341.0 1599.2,334.4 1599.9,342.1 1600.0,337.9 1600.5,337.2 1601.0,344.3 1601.1,338.2 1601.3,340.3 1601.6,332.7 1601.9,336.6 1602.0,333.9 1602.5,341.8 1603.0,340.4 1603.1,337.1 1603.2,344.1 1603.9,334.6 1604.0,338.6 1604.1,345.1 1604.6,331.6 1605.0,335.7 1605.1,336.2 1605.3,336.2 1605.4,343.1 1605.9,342.2 1606.0,341.0 1606.2,344.2 1606.3,333.2 1607.0,340.5 1607.1,335.1 1607.2,343.2 1607.9,340.5 1608.0,340.2 1608.2,334.6 1608.5,343.6 1609.0,335.1 1609.1,340.8 1609.2,332.3 1609.7,341.2 1609.9,338.2 1610.0,336.6 1610.2,343.7 1610.5,334.2 1611.0,340.2 1611.1,342.1 1611.3,334.6 1611.7,343.4 1611.9,334.8 1612.0,339.6 1612.4,331.1 1612.8,341.8 1613.0,336.3 1613.1,340.9 1613.6,334.4 1613.9,339.4 1614.1,340.9 1614.3,345.3 1615.0,333.6 1615.1,336.8 1615.5,335.1 1615.7,342.7 1615.9,335.5 1616.1,343.7 1616.9,332.9 1617.0,341.1 1617.2,342.0 1617.8,333.1 1617.9,339.7 1618.1,337.8 1618.4,343.5 1618.5,336.1 1618.9,338.7 1619.0,339.3 1619.5,339.9 1619.9,333.6 1620.1,340.2 1620.5,333.4 1620.7,342.0 1620.9,340.3 1621.0,334.1 1621.7,341.0 1622.0,337.4 1622.1,340.1 1622.2,337.9 1622.7,345.2 1622.9,339.7 1623.0,337.0 1623.5,336.1 1623.6,348.3 1624.0,339.2 1624.1,341.2 1624.7,344.1 1624.8,335.8 1624.9,340.9 1625.0,337.0 1625.3,343.9 1625.8,335.2 1626.0,338.0 1626.1,339.4 1626.3,334.2 1626.6,341.4 1626.9,340.1 1627.0,340.2 1627.1,343.5 1627.5,336.9 1628.0,337.4 1628.1,342.3 1628.4,331.9 1628.9,339.8 1629.0,336.3 1629.1,342.8 1629.7,331.1 1630.0,338.1 1630.1,342.8 1630.2,346.2 1630.6,335.7 1630.9,340.8 1631.0,337.5 1631.7,334.9 1632.0,344.0 1632.1,341.2 1632.3,333.7 1632.9,345.2 1633.0,345.8 1634.0,335.1 1634.1,341.9 1634.6,336.2 1634.8,343.6 1634.9,339.2 1635.0,339.4 1635.2,342.3 1635.6,333.6 1636.0,339.2 1636.1,343.1 1636.5,345.0 1636.6,337.9 1636.9,338.6 1637.0,339.7 1637.3,342.6 1637.5,335.7 1638.0,341.3 1638.1,336.7 1638.2,333.5 1638.6,342.0 1638.9,337.7 1639.1,341.1 1640.0,335.2 1640.1,335.3 1640.4,344.7 1640.5,335.2 1640.9,338.5 1641.1,338.8 1641.8,340.6 1641.9,334.4 1642.0,337.6 1642.7,342.8 1642.8,335.2 1642.9,335.8 1643.1,339.9 1643.2,331.0 1643.3,342.7 1643.9,335.6 1644.0,336.2 1644.7,343.0 1644.8,335.3 1645.0,339.4 1645.1,342.2 1645.3,342.7 1645.9,331.6 1646.0,336.1 1646.1,346.2 1646.8,335.7 1647.0,336.4 1647.1,332.0 1647.5,330.8 1647.7,344.9 1647.9,342.2 1648.0,339.0 1648.5,332.4 1649.0,342.0 1649.1,336.3 1649.6,334.3 1649.8,343.6 1649.9,337.7 1650.0,335.4 1650.4,340.4 1651.0,338.9 1651.1,339.1 1651.3,344.6 1651.8,338.7 1651.9,339.7 1652.0,340.1 1652.4,336.6 1652.6,343.9 1653.0,338.5 1653.1,335.7 1653.2,347.3 1653.6,332.0 1653.9,334.1 1654.0,340.3 1654.5,341.3 1655.0,334.2 1655.1,343.5 1655.2,335.8 1655.9,342.1 1656.0,337.1 1656.2,345.4 1656.6,336.9 1657.0,339.4 1657.1,334.9 1657.6,345.0 1657.9,341.8 1658.0,341.5 1658.9,335.5 1659.0,335.8 1659.1,342.0 1659.6,337.6 1659.7,342.8 1659.9,338.4 1660.0,346.3 1660.9,332.1 1661.0,339.0 1661.1,338.7 1661.6,340.4 1661.7,336.2 1661.9,338.5 1662.1,335.8 1663.0,344.4 1663.1,335.5 1663.2,344.4 1663.8,335.1 1663.9,337.9 1664.1,340.6 1664.5,336.5 1664.8,343.1 1665.0,337.9 1665.1,337.3 1665.4,335.8 1665.5,343.5 1665.9,339.4 1666.1,338.2 1666.3,332.7 1666.9,341.2 1667.0,340.2 1667.1,334.7 1667.5,342.5 1667.9,335.4 1668.1,338.7 1668.2,340.6 1668.5,333.3 1668.9,334.5 1669.0,339.0 1669.1,331.7 1669.8,341.2 1670.0,334.9 1670.1,335.7 1670.5,343.1 1670.9,339.1 1671.0,343.0 1671.7,346.5 1671.8,337.2 1672.0,341.1 1672.1,345.3 1672.8,335.7 1672.9,344.3 1673.0,338.5 1673.4,342.0 1673.6,333.5 1674.0,336.9 1674.1,338.9 1674.3,333.5 1674.8,347.7 1674.9,339.0 1675.0,336.5 1675.3,333.6 1675.7,342.0 1676.0,334.4 1676.1,334.5 1676.8,341.0 1676.9,337.2 1677.0,335.7 1677.1,341.0 1677.6,330.7 1678.0,335.9 1678.1,335.1 1678.8,344.6 1678.9,339.7 1679.0,341.8 1679.7,333.7 1680.0,334.3 1680.1,340.1 1680.4,343.1 1680.7,333.4 1680.9,335.3 1681.0,337.9 1681.3,333.6 1682.0,342.8 1682.1,339.4 1682.3,342.7 1682.8,338.1 1682.9,339.8 1683.0,343.9 1684.0,333.8 1684.1,339.7 1684.2,332.8 1684.5,341.8 1684.9,338.1 1685.0,337.8 1685.3,335.3 1685.9,341.0 1686.0,339.6 1686.1,340.3 1686.7,331.6 1686.8,345.0 1686.9,337.4 1687.1,338.3 1687.5,342.0 1687.8,332.8 1688.0,338.2 1688.1,337.9 1688.4,344.8 1688.7,335.3 1688.9,335.7 1689.1,334.7 1689.6,342.4 1689.9,336.0 1690.0,336.9 1690.2,343.4 1690.9,333.9 1691.1,335.4 1691.4,343.6 1691.9,333.2 1692.0,337.9 1692.7,343.2 1692.9,334.4 1693.1,343.2 1693.5,340.2 1693.9,340.7 1694.0,337.9 1694.1,345.6 1694.6,335.3 1695.0,337.3 1695.1,337.9 1695.4,342.7 1695.9,337.0 1696.0,334.3 1696.1,342.9 1696.3,333.3 1697.0,336.9 1697.1,340.5 1697.4,334.6 1697.5,342.9 1697.9,341.8 1698.0,340.0 1698.3,334.3 1698.7,341.6 1699.0,340.4 1699.1,338.0 1699.2,344.1 1699.8,334.4 1699.9,339.7 1700.0,343.7 1700.6,335.5 1701.0,342.6 1701.1,333.8 1701.2,344.4 1701.9,336.8 1702.0,335.4 1702.9,341.4 1703.0,338.5 1703.1,336.7 1703.2,342.1 1703.6,336.7 1703.9,338.5 1704.0,340.1 1704.3,344.3 1704.5,333.6 1705.0,336.4 1705.1,331.8 1705.5,342.0 1705.9,337.2 1706.0,337.9 1706.6,342.4 1707.0,332.1 1707.1,341.0 1707.2,337.0 1707.7,342.3 1707.9,340.8 1708.0,338.9 1708.3,343.6 1708.4,334.3 1709.0,337.3 1709.1,334.7 1709.5,332.8 1709.7,341.3 1709.9,337.6 1710.0,335.8 1710.2,344.6 1710.5,333.5 1711.0,336.0 1711.1,333.4 1711.9,343.4 1712.1,340.6 1712.4,333.1 1712.5,342.8 1713.0,341.0 1713.1,337.3 1713.2,335.3 1713.6,345.8 1713.9,335.7 1714.1,342.2 1714.2,344.5 1714.9,336.5 1715.0,334.2 1715.8,343.8 1715.9,330.8 1716.1,333.9 1716.9,342.5 1717.0,339.0 1717.1,343.0 1717.2,336.1 1718.0,341.5 1718.1,346.7 1718.4,335.5 1718.9,339.7 1719.0,345.0 1719.6,331.6 1720.0,334.8 1720.1,336.5 1720.3,329.6 1720.8,341.4 1720.9,339.2 1721.0,336.3 1721.5,340.3 1721.8,334.3 1722.0,336.8 1722.1,343.5 1722.4,334.5 1722.9,337.8 1723.0,341.1 1723.3,336.2 1723.7,343.0 1724.0,338.0 1724.1,343.6 1724.9,331.2 1725.0,338.5 1725.3,337.9 1725.7,346.5 1726.0,342.7 1726.1,340.4 1726.4,342.1 1726.6,337.3 1726.9,340.7 1727.0,342.8 1727.3,334.4 1727.6,343.7 1728.0,337.4 1728.1,338.0 1728.3,335.2 1728.8,341.0 1728.9,339.9 1729.0,336.6 1729.6,347.0 1729.9,336.1 1730.0,340.6 1730.1,336.5 1730.5,333.8 1730.8,343.1 1730.9,334.2 1731.0,341.0 1731.3,332.3 1732.0,335.0 1732.1,341.1 1732.3,343.0 1732.5,338.2 1732.9,339.0 1733.0,341.0 1733.3,335.2 1733.8,343.9 1734.0,337.9 1734.1,337.9 1734.3,342.8 1734.8,333.6 1734.9,337.1 1735.1,338.9 1735.3,335.8 1735.6,346.4 1736.0,340.5 1736.1,342.0 1736.2,332.7 1736.9,339.9 1737.1,343.6 1737.3,346.9 1737.9,336.2 1738.0,343.2 1738.2,332.7 1738.9,340.8 1739.1,337.7 1739.3,341.9 1739.9,339.9 1740.0,337.6 1740.1,344.4 1740.4,335.0 1740.9,339.4 1741.1,344.7 1741.4,345.7 1741.9,333.3 1742.0,332.7 1742.1,348.3 1743.0,335.4 1743.1,339.2 1743.2,342.8 1743.8,334.4 1743.9,334.7 1744.0,334.7 1744.6,345.5 1745.0,342.1 1745.1,332.2 1745.5,342.7 1745.9,339.2 1746.0,335.2 1746.4,334.8 1746.6,344.8 1747.0,341.7 1747.1,338.8 1747.3,336.9 1747.7,342.8 1747.9,338.7 1748.0,330.9 1748.4,342.8 1749.0,334.2 1749.1,334.2 1749.7,333.8 1749.8,340.0 1749.9,338.8 1750.0,336.2 1750.1,342.6 1751.0,337.2 1751.1,339.9 1751.3,347.6 1751.6,337.5 1751.9,339.2 1752.0,337.8 1752.3,342.1 1752.4,334.8 1753.0,335.7 1753.1,341.8 1753.6,333.6 1753.7,342.6 1753.9,341.2 1754.0,339.5 1754.5,346.2 1754.9,334.0 1755.0,339.0 1755.1,341.9 1755.7,342.9 1755.8,335.7 1755.9,342.7 1756.0,342.9 1756.3,336.2 1756.6,343.4 1757.0,339.1 1757.1,346.0 1757.7,334.9 1757.9,338.0 1758.0,339.7 1758.5,335.2 1758.9,342.2 1759.0,338.9 1759.1,344.3 1759.8,335.6 1759.9,339.4 1760.1,338.9 1760.3,334.8 1760.6,344.3 1761.0,337.6 1761.1,341.4 1761.7,343.4 1761.8,335.4 1761.9,339.0 1762.1,339.4 1762.4,342.3 1762.5,335.6 1762.9,341.3 1763.0,338.8 1763.1,336.5 1763.8,342.8 1763.9,340.7 1764.1,336.7 1764.3,342.2 1764.7,336.7 1764.9,338.6 1765.0,341.9 1765.1,343.9 1765.8,334.9 1766.0,336.3 1766.1,341.2 1766.4,345.2 1766.5,336.9 1766.9,337.1 1767.0,339.1 1767.1,343.5 1768.0,335.5 1768.1,328.5 1768.2,345.3 1768.9,342.7 1769.0,336.8 1769.1,345.3 1769.7,334.2 1770.0,334.7 1770.1,337.9 1770.3,343.5 1770.7,333.3 1770.9,337.2 1771.0,336.7 1771.1,346.7 1771.7,334.2 1772.0,336.0 1772.1,334.7 1772.6,343.2 1772.8,334.3 1772.9,335.6 1773.0,336.8 1773.3,332.6 1773.9,343.9 1774.0,335.8 1774.1,335.6 1774.3,343.4 1774.6,333.3 1774.9,333.7 1775.0,335.6 1775.5,335.1 1775.6,345.4 1776.0,344.5 1776.1,340.8 1776.8,342.2 1776.9,332.3 1777.0,332.0 1777.4,342.7 1778.0,337.9 1778.1,337.2 1778.6,345.0 1778.9,338.0 1779.0,337.3 1779.3,339.6 1779.4,332.7 1780.0,339.2 1780.1,336.0 1780.2,344.3 1780.8,334.3 1780.9,339.1 1781.0,340.7 1781.3,336.2 1781.8,342.1 1782.0,340.6 1782.1,336.1 1782.5,333.6 1782.7,342.7 1782.9,339.9 1783.1,338.3 1783.2,337.0 1784.0,347.2 1784.1,341.8 1784.3,344.0 1784.7,336.5 1784.9,340.7 1785.1,335.1 1785.3,333.5 1785.9,344.7 1786.0,338.4 1786.1,339.6 1786.6,331.7 1786.9,341.0 1787.1,336.9 1787.8,332.4 1787.9,340.1 1788.0,336.5 1788.2,331.0 1788.5,340.2 1788.9,335.6 1789.1,337.1 1789.3,345.8 1789.9,333.1 1790.0,340.4 1790.4,333.2 1790.8,342.8 1791.0,342.0 1791.1,337.7 1791.2,342.3 1791.8,332.2 1791.9,336.9 1792.0,340.9 1792.2,336.7 1792.6,341.0 1793.0,339.4 1793.1,336.8 1793.3,334.1 1793.8,339.7 1793.9,336.0 1794.0,344.3 1794.7,332.7 1794.8,347.3 1795.0,335.8 1795.1,339.3 1795.2,334.6 1795.8,343.0 1795.9,338.3 1796.0,340.3 1796.3,333.0 1796.4,341.2 1797.0,339.9 1797.1,330.3 1797.2,341.4 1797.9,339.6 1798.0,338.1 1798.3,334.1 1798.5,345.7 1799.0,341.7 1799.1,337.3 1799.4,331.0 1799.8,338.3 1799.9,337.8 1800.0,345.7 1800.4,333.1 1801.0,342.6 1801.1,336.8 1801.2,335.7 1801.4,344.8 1801.9,342.5 1802.0,339.3 1802.2,331.5 1803.0,344.0 1803.1,343.7 1803.2,332.5 1803.9,342.3 1804.0,334.9 1804.3,345.5 1804.6,333.5 1805.0,342.7 1805.1,334.5 1805.6,347.6 1805.9,338.0 1806.0,343.5 1807.0,334.8 1807.1,339.2 1807.3,334.4 1807.7,341.7 1807.9,336.0 1808.1,337.6 1808.6,341.8 1808.9,333.4 1809.0,338.8 1809.1,336.6 1809.3,342.7 1809.8,335.5 1809.9,337.2 1810.1,342.8 1810.4,333.9 1810.6,345.8 1810.9,339.6 1811.0,338.2 1811.2,342.0 1811.4,335.5 1811.9,341.6 1812.1,341.2 1812.5,332.7 1812.9,337.8 1813.0,338.9 1813.1,342.5 1813.7,338.0 1813.9,338.6 1814.1,340.7 1814.2,343.0 1814.4,334.9 1814.9,342.5 1815.0,336.2 1815.6,344.6 1815.7,335.7 1816.0,336.3 1816.1,337.8 1816.7,334.6 1816.9,341.5 1817.0,336.2 1817.1,332.6 1817.3,342.9 1818.0,339.4 1818.1,336.8 1818.9,345.4 1819.0,341.7 1819.1,334.1 1819.8,344.7 1820.0,340.0 1820.1,334.8 1820.7,343.7 1820.9,339.2 1821.0,338.8 1821.3,339.6 1821.4,335.8 1822.0,338.5 1822.1,342.7 1822.2,336.5 1822.9,340.0 1823.0,338.3 1823.5,335.7 1824.0,343.1 1824.1,340.8 1824.2,334.5 1824.6,343.2 1824.9,342.6 1825.0,338.2 1825.3,344.9 1825.9,336.7 1826.0,337.2 1826.1,334.6 1826.5,339.8 1826.9,329.3 1827.0,337.8 1827.4,335.7 1828.0,342.9 1828.1,338.5 1828.3,343.2 1828.5,334.0 1828.9,338.9 1829.0,338.5 1829.3,334.3 1829.8,343.9 1830.0,336.6 1830.1,334.4 1830.2,346.5 1830.3,333.9 1830.9,337.1 1831.0,339.4 1831.6,343.4 1832.0,334.0 1832.1,340.2 1832.3,347.0 1832.8,333.2 1832.9,337.4 1833.1,333.6 1833.8,341.4 1834.0,337.9 1834.1,338.8 1834.4,329.7 1834.9,343.4 1835.1,341.7 1835.5,345.7 1835.9,334.8 1836.0,334.7 1836.4,340.1 1836.9,333.0 1837.1,338.1 1837.4,343.8 1837.8,336.0 1837.9,343.1 1838.0,342.9 1838.8,333.0 1839.0,338.6 1839.1,340.0 1839.3,341.2 1839.5,336.0 1839.9,337.4 1840.0,344.2 1840.1,334.8 1840.4,344.8 1841.0,339.0 1841.1,337.6 1841.2,344.8 1841.9,335.4 1842.0,342.0 1842.6,343.8 1842.8,333.2 1843.0,340.9 1843.1,338.7 1843.7,341.3 1843.8,335.1 1843.9,338.4 1844.0,340.2 1844.4,334.0 1844.8,342.0 1845.0,339.0 1845.1,337.6 1845.2,332.8 1845.6,345.3 1845.9,337.3 1846.0,333.3 1846.7,345.0 1847.0,337.3 1847.1,344.7 1847.6,334.5 1847.9,340.2 1848.0,341.0 1848.7,345.7 1848.9,335.1 1849.0,339.2 1849.1,336.2 1849.3,343.9 1849.9,338.9 1850.0,337.8 1850.4,332.7 1851.0,341.6 1851.1,334.8 1851.8,344.4 1851.9,341.4 1852.0,339.9 1852.6,334.6 1853.0,343.4 1853.1,336.2 1853.6,334.7 1853.8,345.0 1853.9,338.3 1854.0,340.4 1854.4,342.9 1854.6,331.2 1855.0,341.7 1855.1,343.8 1855.3,336.6 1855.9,339.2 1856.1,340.1 1856.2,332.7 1856.8,345.1 1857.0,341.6 1857.1,339.3 1857.5,343.6 1857.9,336.1 1858.1,337.1 1858.2,334.8 1858.8,343.8 1859.0,336.9 1859.1,341.9 1859.5,332.4 1859.6,346.0 1859.9,339.9 1860.1,336.7 1860.4,334.9 1860.5,342.1 1860.9,338.6 1861.0,345.2 1861.1,335.2 1861.9,343.8 1862.1,341.5 1862.5,333.2 1862.9,338.2 1863.0,343.6 1863.2,344.6 1863.8,334.7 1864.0,338.2 1864.1,336.6 1864.5,342.0 1864.9,334.7 1865.0,334.4 1865.1,342.1 1866.0,338.3 1866.1,339.0 1866.3,339.1 1866.7,332.5 1866.9,338.9 1867.0,340.1 1867.5,333.6 1867.6,341.0 1868.0,338.2 1868.1,340.8 1868.3,344.0 1868.8,336.6 1868.9,339.6 1869.0,339.5 1869.1,345.6 1869.3,333.8 1870.0,338.3 1870.1,336.9 1870.6,344.1 1870.9,335.7 1871.0,340.9 1871.1,342.8 1871.9,336.8 1872.0,339.2 1872.1,338.3 1872.2,333.0 1872.8,341.5 1872.9,338.3 1873.0,337.7 1873.3,333.1 1873.4,342.8 1874.0,341.4 1874.1,339.6 1874.4,337.0 1874.7,343.5 1874.9,339.0 1875.0,342.9 1876.0,336.3 1876.1,338.2 1876.2,334.8 1876.8,342.9 1876.9,341.5 1877.0,337.2 1877.3,336.6 1877.4,343.2 1878.0,341.0 1878.1,333.2 1878.3,340.0 1878.9,338.0 1879.0,339.3 1879.9,342.5 1880.0,341.6 1880.1,336.4 1880.2,335.9 1880.5,341.3 1880.9,340.9 1881.1,342.4 1881.5,334.9 1881.6,344.7 1882.0,342.9 1882.1,340.7 1882.2,344.1 1882.6,333.9 1882.9,335.2 1883.1,336.5 1883.5,341.8 1883.9,338.9 1884.0,336.7 1884.5,343.3 1884.9,342.3 1885.1,339.1 1885.2,342.3 1885.9,335.0 1886.0,341.1 1886.1,335.0 1886.9,339.7 1887.1,333.1 1887.5,344.4 1887.9,341.4 1888.0,342.5 1888.4,333.5 1889.0,343.6 1889.1,336.5 1889.2,334.2 1889.3,343.5 1889.9,334.6 1890.0,337.9 1890.6,343.7 1891.0,335.7 1891.1,342.3 1891.2,335.3 1891.4,342.9 1891.9,338.5 1892.0,337.5 1892.5,329.9 1892.7,341.6 1893.0,337.0 1893.1,336.7 1893.2,343.4 1893.7,334.9 1893.9,341.4 1894.0,332.5 1894.1,341.9 1895.0,334.7 1895.1,337.8 1895.2,342.9 1895.3,335.7 1895.9,341.0 1896.0,336.6 1896.3,336.2 1896.6,341.7 1897.0,338.4 1897.1,338.0 1897.6,340.5 1897.8,335.4 1897.9,336.9 1898.0,333.5 1898.3,340.7 1898.5,331.4 1899.0,335.3 1899.1,336.9 1899.5,333.7 1899.6,343.6 1899.9,342.6 1900.0,340.1 1900.5,341.2 1900.6,334.4 1901.0,339.6 1901.1,335.1 1901.7,332.8 1901.8,340.6 1901.9,335.1 1902.0,337.2 1902.8,340.1 1903.0,334.5 1903.1,334.7 1903.9,340.4 1904.1,342.0 1904.6,330.3 1905.0,335.8 1905.1,339.2 1905.5,342.0 1905.6,331.1 1905.9,339.9 1906.1,340.1 1906.5,343.4 1906.6,334.6 1907.0,342.1 1907.1,339.2 1907.6,335.8 1907.8,346.4 1907.9,336.7 1908.1,341.3 1908.2,335.3 1908.3,344.0 1908.9,342.3 1909.0,340.8 1909.1,341.1 1909.2,335.3 1909.9,340.0 1910.1,339.8 1910.5,334.8 1910.8,342.3 1910.9,338.7 1911.0,338.1 1911.5,332.7 1912.0,341.1 1912.1,338.2 1912.4,341.3 1912.8,337.2 1912.9,338.1 1913.0,338.9 1913.2,335.2 1913.5,343.1 1914.0,335.3 1914.1,334.4 1914.2,342.7 1914.7,333.9 1914.9,338.5 1915.0,334.5 1915.7,344.4 1916.0,336.3 1916.1,339.4 1916.2,343.9 1916.8,332.8 1916.9,337.3 1917.0,337.5 1917.1,333.2 1917.3,344.5 1918.0,341.3 1918.1,334.0 1918.3,343.3 1918.9,339.1 1919.0,339.0 1919.5,341.8 1919.6,334.9 1920.0,338.5 1920.1,339.5 1920.6,345.1 1920.8,331.2 1920.9,340.8 1921.0,340.8 1921.4,342.2 1921.9,336.5 1922.0,338.0 1922.1,337.3 1922.8,334.2 1922.9,340.1 1923.0,337.8 1923.2,341.8 1923.9,334.0 1924.0,336.1 1924.1,332.0 1924.3,344.1 1924.9,337.0 1925.0,334.9 1925.2,339.5 1925.6,334.3 1926.0,338.0 1926.1,341.2 1926.3,331.3 1926.9,337.8 1927.0,339.3 1927.8,333.5 1927.9,343.4 1928.0,341.6 1928.1,337.9 1928.7,342.2 1928.9,333.8 1929.1,338.6 1929.2,334.9 1930.0,343.8 1930.1,335.9 1930.2,335.8 1930.8,340.6 1930.9,340.4 1931.1,341.0 1931.5,334.3 1931.9,337.8 1932.0,336.8 1932.4,341.5 1932.9,337.4 1933.1,332.6 1933.4,340.1 1933.9,337.8 1934.0,338.9 1934.5,342.3 1934.6,334.6 1934.9,339.2 1935.1,335.6 1935.3,340.9 1935.8,333.0 1935.9,335.2 1936.0,339.2 1936.5,335.2 1936.8,342.2 1937.0,338.0 1937.1,345.4 1937.3,334.1 1937.9,336.1 1938.0,343.6 1939.0,335.1 1939.1,336.9 1939.8,345.0 1939.9,333.8 1940.0,338.3 1940.3,343.0 1941.0,336.4 1941.1,341.0 1941.3,346.8 1941.6,333.5 1941.9,341.9 1942.0,333.7 1942.4,331.3 1942.6,343.0 1943.0,338.8 1943.1,335.7 1943.2,333.3 1943.7,340.6 1943.9,339.2 1944.0,335.6 1944.6,334.5 1945.0,339.8 1945.1,336.6 1945.4,331.1 1945.8,343.9 1945.9,340.0 1946.0,343.7 1946.4,333.3 1946.6,344.6 1947.0,339.4 1947.1,345.0 1947.8,334.1 1947.9,341.7 1948.0,336.7 1948.4,336.7 1948.5,341.2 1949.0,337.7 1949.1,339.6 1949.3,333.8 1949.8,343.4 1949.9,339.1 1950.0,338.0 1950.8,332.7 1951.0,344.4 1951.1,339.9 1951.3,343.6 1951.5,333.1 1951.9,334.2 1952.0,342.0 1953.0,336.2 1953.1,341.2 1953.6,334.0 1953.8,341.4 1953.9,339.8 1954.1,338.8 1954.3,338.9 1954.9,333.6 1955.0,335.3 1955.1,342.9 1955.9,332.7 1956.1,332.8 1956.4,340.9 1956.9,338.3 1957.0,336.8 1957.2,333.8 1957.4,339.8 1957.9,337.6 1958.1,340.6 1958.2,335.8 1958.8,346.3 1958.9,342.3 1959.0,340.0 1959.4,335.1 1959.7,344.2 1960.0,340.2 1960.1,339.6 1960.5,335.2 1960.8,339.7 1960.9,337.5 1961.0,332.2 1962.0,342.9 1962.1,335.6 1962.2,343.0 1962.9,336.8 1963.0,337.1 1963.1,332.7 1963.7,341.2 1964.0,338.4 1964.1,332.0 1964.5,331.8 1964.9,344.6 1965.0,337.1 1965.6,332.8 1965.8,342.1 1966.0,336.5 1966.1,336.5 1966.7,341.6 1966.8,333.2 1966.9,337.5 1967.0,337.0 1967.1,334.5 1967.3,342.0 1968.0,338.5 1968.1,338.5 1968.3,344.4 1968.4,333.2 1968.9,342.1 1969.0,341.8 1969.6,336.9 1970.0,339.3 1970.1,337.8 1970.3,343.3 1970.9,333.3 1971.0,337.0 1971.6,331.8 1971.9,344.9 1972.0,341.4 1972.1,336.4 1972.3,331.3 1972.8,342.3 1972.9,335.9 1973.0,341.3 1973.5,331.5 1974.0,342.7 1974.1,335.5 1974.2,347.9 1974.9,341.6 1975.0,341.9 1975.3,335.5 1975.6,342.9 1976.0,337.7 1976.1,339.3 1976.7,333.4 1976.9,344.1 1977.1,341.3 1977.6,342.5 1978.0,336.5 1978.1,342.5 1978.5,336.4 1978.6,344.2 1978.9,336.9 1979.1,342.0 1979.2,344.7 1979.5,332.8 1980.0,338.0 1980.1,338.8 1980.6,342.3 1980.9,334.8 1981.1,345.6 1981.5,333.2 1981.9,341.2 1982.0,338.0 1982.1,336.6 1982.6,347.6 1982.9,336.7 1983.1,338.0 1983.7,337.3 1983.8,342.3 1983.9,338.7 1984.0,337.4 1984.1,341.3 1985.0,333.7 1985.1,333.1 1985.2,339.4 1985.4,331.2 1985.9,338.8 1986.0,337.0 1986.1,341.9 1987.0,337.2 1987.1,338.6 1987.7,335.8 1987.9,341.0 1988.0,335.1 1988.5,334.3 1988.6,344.1 1989.0,338.9 1989.1,340.4 1989.2,333.6 1989.4,343.6 1989.9,340.7 1990.0,341.0 1990.1,344.0 1990.3,332.3 1991.0,341.0 1991.1,342.5 1991.4,332.1 1991.7,346.2 1991.9,340.2 1992.0,335.2 1992.7,346.4 1993.0,341.7 1993.1,334.8 1993.6,345.3 1993.9,337.4 1994.0,337.8 1994.5,343.3 1994.6,335.8 1995.0,337.5 1995.1,335.8 1995.2,341.2 1995.4,335.2 1995.9,339.3 1996.0,338.0 1996.4,333.0 1996.9,342.6 1997.0,339.0 1997.1,341.5 1997.5,342.6 1997.8,337.2 1997.9,338.0 1998.0,339.1 1998.4,332.0 1999.0,338.0 1999.1,339.9 1999.3,334.7 1999.5,343.6 1999.9,338.5 2000.0,340.5 2000.5,341.9 2000.9,338.3 2001.0,339.0 2001.1,340.9 2001.3,342.3 2001.6,334.5 2001.9,341.4 2002.1,344.1 2002.3,347.9 2002.4,334.8 2003.0,340.3 2003.1,334.9 2003.8,341.4 2003.9,331.0 2004.1,338.6 2004.2,340.5 2004.6,334.6 2004.9,336.4 2005.0,337.8 2005.2,335.4 2005.5,347.7 2005.9,336.9 2006.1,340.4 2006.4,341.5 2006.5,337.0 2006.9,340.4 2007.0,335.0 2007.6,342.3 2007.9,339.9 2008.1,334.1 2008.5,340.3 2008.9,336.6 2009.0,332.6 2009.5,343.8 2010.0,338.7 2010.1,340.7 2010.7,348.5 2010.9,337.6 2011.0,342.2 2011.4,334.5 2011.5,342.8 2012.0,338.5 2012.1,336.8 2012.5,331.8 2012.9,343.7 2013.0,340.8 2013.4,331.1 2013.5,343.4 2014.0,336.6 2014.1,341.7 2014.3,344.5 2014.7,335.6 2014.9,341.4 2015.0,337.9 2015.1,343.6 2016.0,334.3 2016.1,335.2 2016.4,347.0 2016.7,334.8 2016.9,337.8 2017.0,342.2 2017.3,333.5 2018.0,341.8 2018.1,340.5 2018.3,332.1 2018.4,342.8 2018.9,336.3 2019.0,341.6 2019.2,333.2 2019.4,342.5 2020.0,335.9 2020.1,342.8 2020.2,342.9 2020.7,336.0 2020.9,336.5 2021.0,337.9 2021.3,332.9 2022.0,340.0 2022.1,343.1 2022.6,334.6 2022.9,339.8 2023.0,334.1 2023.2,331.4 2023.8,343.3 2024.0,339.0 2024.1,339.2 2024.8,340.3 2024.9,331.6 2025.0,340.8 2025.6,347.9 2025.8,334.5 2026.0,342.0 2026.1,344.5 2026.7,334.6 2026.9,338.1 2027.1,337.0 2027.5,342.9 2027.6,333.6 2028.0,339.2 2028.1,334.3 2028.6,333.4 2028.9,344.2 2029.1,337.9 2029.2,340.1 2029.6,336.3 2029.9,339.1 2030.0,336.1 2030.4,346.8 2030.5,335.0 2030.9,335.0 2031.1,339.7 2031.2,336.3 2031.5,345.9 2031.9,339.0 2032.0,335.2 2032.2,331.1 2032.5,345.4 2033.0,341.0 2033.1,335.3 2033.3,345.9 2033.9,341.9 2034.0,339.1 2034.6,341.5 2034.8,333.7 2035.0,339.1 2035.1,343.0 2035.7,335.7 2035.9,340.1 2036.0,337.6 2036.1,334.1 2036.7,342.2 2037.0,335.0 2037.1,338.3 2037.6,341.9 2037.7,334.5 2037.9,335.6 2038.0,339.2 2038.7,343.1 2039.0,333.0 2039.1,336.8 2039.4,344.2 2039.9,333.2 2040.0,339.3 2040.9,344.6 2041.0,334.2 2041.1,335.6 2041.6,334.2 2041.9,341.8 2042.0,335.7 2042.9,333.4 2043.0,342.4 2043.1,338.8 2043.3,334.4 2043.9,341.8 2044.0,340.7 2044.6,344.3 2045.0,334.0 2045.1,333.6 2045.2,340.8 2045.9,339.8 2046.0,333.9 2046.2,343.9 2047.0,335.4 2047.1,339.9 2047.6,343.1 2047.9,335.7 2048.0,342.7 2048.2,344.1 2048.3,331.6 2049.0,340.2 2049.1,343.6 2049.8,337.0 2049.9,339.8 2050.1,342.3 2051.0,333.2 2051.1,339.6 2051.6,342.0 2051.7,338.0 2051.9,338.5 2052.1,340.6 2052.4,344.7 2052.5,334.1 2052.9,340.2 2053.0,340.8"/>
</g>
<g shape-rendering="crispEdges"><rect x="1102" y="119" width="908" height="118" fill="#262626"/><rect x="1105" y="122" width="901" height="111" fill="#fff"/></g>
<g font-size="77" fill="#000">
<rect x="1119" y="176" width="164" height="3" fill="#00ff00" shape-rendering="crispEdges"/>
<text transform="translate(1293.5 206) scale(1 1.025)">S3</text>
<rect x="1421" y="176" width="164" height="3" fill="#ff0000" shape-rendering="crispEdges"/>
<text transform="translate(1595.5 206) scale(1 1.025)">S2</text>
<rect x="1723" y="176" width="164" height="3" fill="#0000ff" shape-rendering="crispEdges"/>
<text transform="translate(1897.5 206) scale(1 1.025)">S<tspan dx="2">1</tspan></text>
<rect x="1950" y="198" width="20" height="10" fill="#fff"/>
<rect x="1977" y="198" width="16" height="10" fill="#fff"/>
</g>
<g font-size="77" fill="#262626">
<text transform="translate(283.5 694) scale(1 1.025)" text-anchor="middle">0</text>
<text transform="translate(871.667 694) scale(1 1.025)" text-anchor="middle">20</text>
<text transform="translate(1168.5 694) scale(1 1.025)" text-anchor="middle">30</text>
<text transform="translate(1462.83 694) scale(1 1.025)" text-anchor="middle">40</text>
<text transform="translate(1758.17 694) scale(1 1.025)" text-anchor="middle">50</text>
<text transform="translate(2051.5 694) scale(1 1.025)" text-anchor="middle">60</text>
<text transform="translate(537.3 694) scale(1 1.025)">1<tspan dx="-2">0</tspan></text>
<rect x="538" y="686" width="18.6" height="10" fill="#fff"/>
<rect x="563.5" y="686" width="15" height="10" fill="#fff"/>
<text transform="translate(254 214.977) scale(1 1.025)" text-anchor="end">2</text>
<text transform="translate(255.5 368.25) scale(1 1.025)" text-anchor="end">0</text>
<text transform="translate(258 519.523) scale(1 1.025)" text-anchor="end"><tspan font-size="61.6" dy="-0.7">−</tspan><tspan dx="2" dy="0.7">2</tspan></text>
<text transform="translate(1167.5 798) scale(1 1.025)" text-anchor="middle">Time (s)</text>
<text transform="translate(138.5,338.8) rotate(-90)" text-anchor="middle">Amplitude</text>
</g>
</svg>
</body></html>
